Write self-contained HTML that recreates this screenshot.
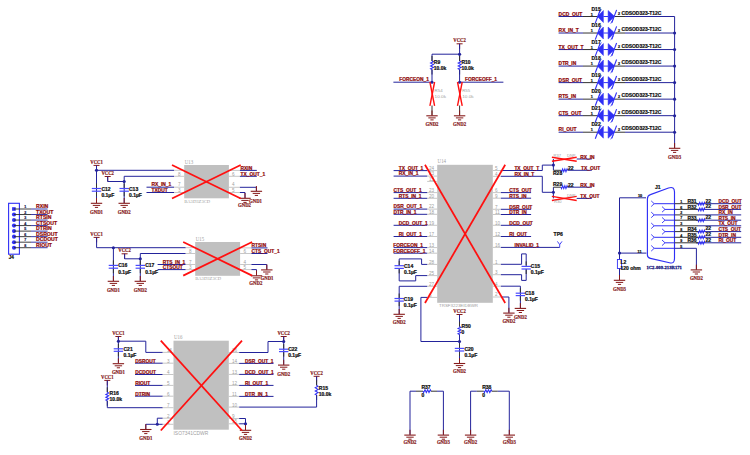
<!DOCTYPE html>
<html><head><meta charset="utf-8"><style>
html,body{margin:0;padding:0;background:#fff;}
svg{display:block;}
</style></head><body>
<svg width="750" height="455" viewBox="0 0 750 455">
<rect x="0" y="0" width="750" height="455" fill="#ffffff"/>
<rect x="8.6" y="203.3" width="10.8" height="50.9" fill="none" stroke="#2f2ff5" stroke-width="1.1"/>
<rect x="12.1" y="207.2" width="3.6" height="3.6" fill="#2f2ff5" stroke="none" stroke-width="1"/>
<line x1="14" y1="209" x2="31" y2="209" stroke="#2a2a2a" stroke-width="0.9"/>
<line x1="31" y1="209" x2="47.6" y2="209" stroke="#23239b" stroke-width="0.9"/>
<text x="24.2" y="208.3" font-size="3.6" fill="#1a1a50" font-weight="bold" font-family='"Liberation Sans", sans-serif' text-anchor="start" stroke="#1a1a50" stroke-width="0.22">1</text>
<text x="36.1" y="208" font-size="5.1" fill="#8f0a0a" font-weight="bold" font-family='"Liberation Sans", sans-serif' text-anchor="start" stroke="#8f0a0a" stroke-width="0.22">RXIN</text>
<circle cx="14" cy="214.53" r="2.05" fill="#2f2ff5"/>
<line x1="14" y1="214.53" x2="31" y2="214.53" stroke="#2a2a2a" stroke-width="0.9"/>
<line x1="31" y1="214.53" x2="47.6" y2="214.53" stroke="#23239b" stroke-width="0.9"/>
<text x="24.2" y="213.83" font-size="3.6" fill="#1a1a50" font-weight="bold" font-family='"Liberation Sans", sans-serif' text-anchor="start" stroke="#1a1a50" stroke-width="0.22">2</text>
<text x="36.1" y="213.53" font-size="5.1" fill="#8f0a0a" font-weight="bold" font-family='"Liberation Sans", sans-serif' text-anchor="start" stroke="#8f0a0a" stroke-width="0.22">TXOUT</text>
<circle cx="14" cy="220.06" r="2.05" fill="#2f2ff5"/>
<line x1="14" y1="220.06" x2="31" y2="220.06" stroke="#2a2a2a" stroke-width="0.9"/>
<line x1="31" y1="220.06" x2="47.6" y2="220.06" stroke="#23239b" stroke-width="0.9"/>
<text x="24.2" y="219.36" font-size="3.6" fill="#1a1a50" font-weight="bold" font-family='"Liberation Sans", sans-serif' text-anchor="start" stroke="#1a1a50" stroke-width="0.22">3</text>
<text x="36.1" y="219.06" font-size="5.1" fill="#8f0a0a" font-weight="bold" font-family='"Liberation Sans", sans-serif' text-anchor="start" stroke="#8f0a0a" stroke-width="0.22">RTSIN</text>
<circle cx="14" cy="225.59" r="2.05" fill="#2f2ff5"/>
<line x1="14" y1="225.59" x2="31" y2="225.59" stroke="#2a2a2a" stroke-width="0.9"/>
<line x1="31" y1="225.59" x2="47.6" y2="225.59" stroke="#23239b" stroke-width="0.9"/>
<text x="24.2" y="224.89" font-size="3.6" fill="#1a1a50" font-weight="bold" font-family='"Liberation Sans", sans-serif' text-anchor="start" stroke="#1a1a50" stroke-width="0.22">4</text>
<text x="36.1" y="224.59" font-size="5.1" fill="#8f0a0a" font-weight="bold" font-family='"Liberation Sans", sans-serif' text-anchor="start" stroke="#8f0a0a" stroke-width="0.22">CTSOUT</text>
<circle cx="14" cy="231.12" r="2.05" fill="#2f2ff5"/>
<line x1="14" y1="231.12" x2="31" y2="231.12" stroke="#2a2a2a" stroke-width="0.9"/>
<line x1="31" y1="231.12" x2="47.6" y2="231.12" stroke="#23239b" stroke-width="0.9"/>
<text x="24.2" y="230.42" font-size="3.6" fill="#1a1a50" font-weight="bold" font-family='"Liberation Sans", sans-serif' text-anchor="start" stroke="#1a1a50" stroke-width="0.22">5</text>
<text x="36.1" y="230.12" font-size="5.1" fill="#8f0a0a" font-weight="bold" font-family='"Liberation Sans", sans-serif' text-anchor="start" stroke="#8f0a0a" stroke-width="0.22">DTRIN</text>
<circle cx="14" cy="236.65" r="2.05" fill="#2f2ff5"/>
<line x1="14" y1="236.65" x2="31" y2="236.65" stroke="#2a2a2a" stroke-width="0.9"/>
<line x1="31" y1="236.65" x2="47.6" y2="236.65" stroke="#23239b" stroke-width="0.9"/>
<text x="24.2" y="235.95" font-size="3.6" fill="#1a1a50" font-weight="bold" font-family='"Liberation Sans", sans-serif' text-anchor="start" stroke="#1a1a50" stroke-width="0.22">6</text>
<text x="36.1" y="235.65" font-size="5.1" fill="#8f0a0a" font-weight="bold" font-family='"Liberation Sans", sans-serif' text-anchor="start" stroke="#8f0a0a" stroke-width="0.22">DSROUT</text>
<circle cx="14" cy="242.18" r="2.05" fill="#2f2ff5"/>
<line x1="14" y1="242.18" x2="31" y2="242.18" stroke="#2a2a2a" stroke-width="0.9"/>
<line x1="31" y1="242.18" x2="47.6" y2="242.18" stroke="#23239b" stroke-width="0.9"/>
<text x="24.2" y="241.48" font-size="3.6" fill="#1a1a50" font-weight="bold" font-family='"Liberation Sans", sans-serif' text-anchor="start" stroke="#1a1a50" stroke-width="0.22">7</text>
<text x="36.1" y="241.18" font-size="5.1" fill="#8f0a0a" font-weight="bold" font-family='"Liberation Sans", sans-serif' text-anchor="start" stroke="#8f0a0a" stroke-width="0.22">DCDOUT</text>
<circle cx="14" cy="247.71" r="2.05" fill="#2f2ff5"/>
<line x1="14" y1="247.71" x2="31" y2="247.71" stroke="#2a2a2a" stroke-width="0.9"/>
<line x1="31" y1="247.71" x2="47.6" y2="247.71" stroke="#23239b" stroke-width="0.9"/>
<text x="24.2" y="247.01" font-size="3.6" fill="#1a1a50" font-weight="bold" font-family='"Liberation Sans", sans-serif' text-anchor="start" stroke="#1a1a50" stroke-width="0.22">8</text>
<text x="36.1" y="246.71" font-size="5.1" fill="#8f0a0a" font-weight="bold" font-family='"Liberation Sans", sans-serif' text-anchor="start" stroke="#8f0a0a" stroke-width="0.22">RIOUT</text>
<text x="8.8" y="258.6" font-size="4.6" fill="#111111" font-weight="bold" font-family='"Liberation Sans", sans-serif' text-anchor="start" stroke="#111111" stroke-width="0.22">J4</text>
<text x="96.5" y="163.8" font-size="5.4" fill="#861a1a" font-weight="bold" font-family='"Liberation Serif", serif' text-anchor="middle" textLength="12.5" lengthAdjust="spacingAndGlyphs" stroke="#861a1a" stroke-width="0.2">VCC1</text>
<line x1="93.5" y1="165.4" x2="99.5" y2="165.4" stroke="#861a1a" stroke-width="1"/>
<line x1="96.5" y1="165.4" x2="96.5" y2="170.4" stroke="#861a1a" stroke-width="1"/>
<line x1="96.5" y1="165.4" x2="96.5" y2="203" stroke="#23239b" stroke-width="1"/>
<circle cx="96.5" cy="170.3" r="1.55" fill="#23239b"/>
<line x1="96.5" y1="170.3" x2="174" y2="170.3" stroke="#23239b" stroke-width="1"/>
<line x1="96.5" y1="183.5" x2="96.5" y2="188.5" stroke="#333333" stroke-width="1"/>
<line x1="96.5" y1="191.2" x2="96.5" y2="196.2" stroke="#333333" stroke-width="1"/>
<line x1="91.8" y1="188.5" x2="101.2" y2="188.5" stroke="#4a4aff" stroke-width="1.2"/>
<line x1="91.8" y1="191.2" x2="101.2" y2="191.2" stroke="#4a4aff" stroke-width="1.2"/>
<line x1="96.5" y1="198" x2="96.5" y2="203" stroke="#861a1a" stroke-width="1"/>
<line x1="90.8" y1="203.3" x2="102.2" y2="203.3" stroke="#861a1a" stroke-width="1.1"/>
<line x1="92.8" y1="205.4" x2="100.2" y2="205.4" stroke="#861a1a" stroke-width="1"/>
<line x1="94.9" y1="207.4" x2="98.1" y2="207.4" stroke="#861a1a" stroke-width="1"/>
<text x="96.5" y="214.3" font-size="5.4" fill="#861a1a" font-weight="bold" font-family='"Liberation Serif", serif' text-anchor="middle" textLength="13" lengthAdjust="spacingAndGlyphs" stroke="#861a1a" stroke-width="0.2">GND1</text>
<text x="101.4" y="190.6" font-size="5" fill="#111111" font-weight="bold" font-family='"Liberation Sans", sans-serif' text-anchor="start" stroke="#111111" stroke-width="0.22">C12</text>
<text x="101.4" y="196.8" font-size="5" fill="#111111" font-weight="bold" font-family='"Liberation Sans", sans-serif' text-anchor="start" stroke="#111111" stroke-width="0.22">0.1µF</text>
<text x="107.7" y="174.9" font-size="5.4" fill="#861a1a" font-weight="bold" font-family='"Liberation Serif", serif' text-anchor="middle" textLength="12.5" lengthAdjust="spacingAndGlyphs" stroke="#861a1a" stroke-width="0.2">VCC2</text>
<line x1="104.7" y1="176.5" x2="110.7" y2="176.5" stroke="#861a1a" stroke-width="1"/>
<line x1="107.7" y1="176.5" x2="107.7" y2="181.5" stroke="#861a1a" stroke-width="1"/>
<polyline points="107.7,176.5 107.7,181.5 124.2,181.5" stroke="#23239b" stroke-width="1" fill="none"/>
<circle cx="124.2" cy="181.5" r="1.55" fill="#23239b"/>
<line x1="124.2" y1="176.3" x2="124.2" y2="203" stroke="#23239b" stroke-width="1"/>
<line x1="124.2" y1="176.3" x2="174" y2="176.3" stroke="#23239b" stroke-width="1"/>
<line x1="124.2" y1="183.5" x2="124.2" y2="188.5" stroke="#333333" stroke-width="1"/>
<line x1="124.2" y1="191.2" x2="124.2" y2="196.2" stroke="#333333" stroke-width="1"/>
<line x1="119.5" y1="188.5" x2="128.9" y2="188.5" stroke="#4a4aff" stroke-width="1.2"/>
<line x1="119.5" y1="191.2" x2="128.9" y2="191.2" stroke="#4a4aff" stroke-width="1.2"/>
<line x1="124.2" y1="198" x2="124.2" y2="203" stroke="#861a1a" stroke-width="1"/>
<line x1="118.5" y1="203.3" x2="129.9" y2="203.3" stroke="#861a1a" stroke-width="1.1"/>
<line x1="120.5" y1="205.4" x2="127.9" y2="205.4" stroke="#861a1a" stroke-width="1"/>
<line x1="122.6" y1="207.4" x2="125.8" y2="207.4" stroke="#861a1a" stroke-width="1"/>
<text x="124.2" y="214.3" font-size="5.4" fill="#861a1a" font-weight="bold" font-family='"Liberation Serif", serif' text-anchor="middle" textLength="13" lengthAdjust="spacingAndGlyphs" stroke="#861a1a" stroke-width="0.2">GND2</text>
<text x="129" y="190.6" font-size="5" fill="#111111" font-weight="bold" font-family='"Liberation Sans", sans-serif' text-anchor="start" stroke="#111111" stroke-width="0.22">C13</text>
<text x="129" y="196.8" font-size="5" fill="#111111" font-weight="bold" font-family='"Liberation Sans", sans-serif' text-anchor="start" stroke="#111111" stroke-width="0.22">0.1µF</text>
<line x1="146.5" y1="187.2" x2="174" y2="187.2" stroke="#23239b" stroke-width="1"/>
<line x1="146.5" y1="192.5" x2="174" y2="192.5" stroke="#23239b" stroke-width="1"/>
<text x="151.5" y="186.4" font-size="4.85" fill="#8f0a0a" font-weight="bold" font-family='"Liberation Sans", sans-serif' text-anchor="start" stroke="#8f0a0a" stroke-width="0.22">RX_IN_1</text>
<text x="151.5" y="191.8" font-size="4.85" fill="#8f0a0a" font-weight="bold" font-family='"Liberation Sans", sans-serif' text-anchor="start" stroke="#8f0a0a" stroke-width="0.22">TXDUT</text>
<line x1="174" y1="170.3" x2="184.2" y2="170.3" stroke="#b9b9b9" stroke-width="0.8"/>
<line x1="174" y1="176.3" x2="184.2" y2="176.3" stroke="#b9b9b9" stroke-width="0.8"/>
<line x1="174" y1="187.2" x2="184.2" y2="187.2" stroke="#b9b9b9" stroke-width="0.8"/>
<line x1="174" y1="192.5" x2="184.2" y2="192.5" stroke="#b9b9b9" stroke-width="0.8"/>
<line x1="228.9" y1="170.4" x2="239.9" y2="170.4" stroke="#b9b9b9" stroke-width="0.8"/>
<line x1="228.9" y1="176.3" x2="239.9" y2="176.3" stroke="#b9b9b9" stroke-width="0.8"/>
<line x1="228.9" y1="187.3" x2="239.9" y2="187.3" stroke="#b9b9b9" stroke-width="0.8"/>
<line x1="228.9" y1="192.5" x2="239.9" y2="192.5" stroke="#b9b9b9" stroke-width="0.8"/>
<rect x="184.2" y="165" width="44.7" height="33.3" fill="#c0c0c0" stroke="none" stroke-width="1"/>
<text x="184.7" y="163.6" font-size="5.3" fill="#a0a0a0" font-weight="normal" font-family='"Liberation Serif", serif' text-anchor="start" textLength="8.5" lengthAdjust="spacingAndGlyphs">U13</text>
<text x="184.2" y="202.9" font-size="4.8" fill="#a0a0a0" font-weight="normal" font-family='"Liberation Serif", serif' text-anchor="start" textLength="26" lengthAdjust="spacingAndGlyphs">BA3D3Z3CD</text>
<text x="178" y="175.7" font-size="4.6" fill="#a0a0a0" font-weight="normal" font-family='"Liberation Sans", sans-serif' text-anchor="start">8</text>
<text x="178" y="186" font-size="4.6" fill="#a0a0a0" font-weight="normal" font-family='"Liberation Sans", sans-serif' text-anchor="start">7</text>
<text x="178" y="191.7" font-size="4.6" fill="#a0a0a0" font-weight="normal" font-family='"Liberation Sans", sans-serif' text-anchor="start">3</text>
<text x="232" y="175.7" font-size="4.6" fill="#a0a0a0" font-weight="normal" font-family='"Liberation Sans", sans-serif' text-anchor="start">6</text>
<text x="232" y="186.4" font-size="4.6" fill="#a0a0a0" font-weight="normal" font-family='"Liberation Sans", sans-serif' text-anchor="start">4</text>
<text x="232" y="191.8" font-size="4.6" fill="#a0a0a0" font-weight="normal" font-family='"Liberation Sans", sans-serif' text-anchor="start">5</text>
<line x1="239.9" y1="170.4" x2="256.8" y2="170.4" stroke="#23239b" stroke-width="1"/>
<line x1="239.9" y1="176.3" x2="256.8" y2="176.3" stroke="#23239b" stroke-width="1"/>
<text x="240.6" y="169.7" font-size="4.85" fill="#8f0a0a" font-weight="bold" font-family='"Liberation Sans", sans-serif' text-anchor="start" stroke="#8f0a0a" stroke-width="0.22">RXIN</text>
<text x="240.6" y="175.6" font-size="4.85" fill="#8f0a0a" font-weight="bold" font-family='"Liberation Sans", sans-serif' text-anchor="start" stroke="#8f0a0a" stroke-width="0.22">TX_OUT_1</text>
<polyline points="239.9,187.3 256.4,187.3 256.4,191" stroke="#23239b" stroke-width="1" fill="none"/>
<line x1="256.4" y1="186" x2="256.4" y2="191" stroke="#861a1a" stroke-width="1"/>
<line x1="250.7" y1="191.3" x2="262.1" y2="191.3" stroke="#861a1a" stroke-width="1.1"/>
<line x1="252.7" y1="193.4" x2="260.1" y2="193.4" stroke="#861a1a" stroke-width="1"/>
<line x1="254.8" y1="195.4" x2="258" y2="195.4" stroke="#861a1a" stroke-width="1"/>
<text x="255.5" y="203" font-size="5.4" fill="#861a1a" font-weight="bold" font-family='"Liberation Serif", serif' text-anchor="middle" textLength="13" lengthAdjust="spacingAndGlyphs" stroke="#861a1a" stroke-width="0.2">GND1</text>
<polyline points="239.9,192.5 245,192.5 245,198" stroke="#23239b" stroke-width="1" fill="none"/>
<line x1="245" y1="193" x2="245" y2="198" stroke="#861a1a" stroke-width="1"/>
<line x1="239.3" y1="198.3" x2="250.7" y2="198.3" stroke="#861a1a" stroke-width="1.1"/>
<line x1="241.3" y1="200.4" x2="248.7" y2="200.4" stroke="#861a1a" stroke-width="1"/>
<line x1="243.4" y1="202.4" x2="246.6" y2="202.4" stroke="#861a1a" stroke-width="1"/>
<text x="244.5" y="207.3" font-size="5.4" fill="#861a1a" font-weight="bold" font-family='"Liberation Serif", serif' text-anchor="middle" textLength="13" lengthAdjust="spacingAndGlyphs" stroke="#861a1a" stroke-width="0.2">GND2</text>
<line x1="172" y1="165" x2="240.7" y2="198.5" stroke="#ff1010" stroke-width="1.75"/>
<line x1="172" y1="198.5" x2="240.7" y2="165" stroke="#ff1010" stroke-width="1.75"/>
<text x="96.6" y="235.8" font-size="5.4" fill="#861a1a" font-weight="bold" font-family='"Liberation Serif", serif' text-anchor="middle" textLength="12.5" lengthAdjust="spacingAndGlyphs" stroke="#861a1a" stroke-width="0.2">VCC1</text>
<line x1="93.6" y1="237.4" x2="99.6" y2="237.4" stroke="#861a1a" stroke-width="1"/>
<line x1="96.6" y1="237.4" x2="96.6" y2="242.4" stroke="#861a1a" stroke-width="1"/>
<polyline points="96.6,237.4 96.6,247.7 185.7,247.7" stroke="#23239b" stroke-width="1" fill="none"/>
<circle cx="113.4" cy="247.7" r="1.55" fill="#23239b"/>
<line x1="113.4" y1="247.7" x2="113.4" y2="281" stroke="#23239b" stroke-width="1"/>
<line x1="113.4" y1="260.4" x2="113.4" y2="265.4" stroke="#333333" stroke-width="1"/>
<line x1="113.4" y1="268.2" x2="113.4" y2="273.2" stroke="#333333" stroke-width="1"/>
<line x1="108.7" y1="265.4" x2="118.1" y2="265.4" stroke="#4a4aff" stroke-width="1.2"/>
<line x1="108.7" y1="268.2" x2="118.1" y2="268.2" stroke="#4a4aff" stroke-width="1.2"/>
<line x1="113.4" y1="276" x2="113.4" y2="281" stroke="#861a1a" stroke-width="1"/>
<line x1="107.7" y1="281.3" x2="119.1" y2="281.3" stroke="#861a1a" stroke-width="1.1"/>
<line x1="109.7" y1="283.4" x2="117.1" y2="283.4" stroke="#861a1a" stroke-width="1"/>
<line x1="111.8" y1="285.4" x2="115" y2="285.4" stroke="#861a1a" stroke-width="1"/>
<text x="113.4" y="292.3" font-size="5.4" fill="#861a1a" font-weight="bold" font-family='"Liberation Serif", serif' text-anchor="middle" textLength="13" lengthAdjust="spacingAndGlyphs" stroke="#861a1a" stroke-width="0.2">GND1</text>
<text x="118.2" y="267.3" font-size="5" fill="#111111" font-weight="bold" font-family='"Liberation Sans", sans-serif' text-anchor="start" stroke="#111111" stroke-width="0.22">C16</text>
<text x="118.2" y="273.5" font-size="5" fill="#111111" font-weight="bold" font-family='"Liberation Sans", sans-serif' text-anchor="start" stroke="#111111" stroke-width="0.22">0.1µF</text>
<text x="124.6" y="252.2" font-size="5.4" fill="#861a1a" font-weight="bold" font-family='"Liberation Serif", serif' text-anchor="middle" textLength="12.5" lengthAdjust="spacingAndGlyphs" stroke="#861a1a" stroke-width="0.2">VCC2</text>
<line x1="121.6" y1="253.8" x2="127.6" y2="253.8" stroke="#861a1a" stroke-width="1"/>
<line x1="124.6" y1="253.8" x2="124.6" y2="258.8" stroke="#861a1a" stroke-width="1"/>
<polyline points="124.6,253.8 124.6,258.8 140.3,258.8" stroke="#23239b" stroke-width="1" fill="none"/>
<circle cx="140.3" cy="258.8" r="1.55" fill="#23239b"/>
<line x1="140.3" y1="253.5" x2="140.3" y2="281" stroke="#23239b" stroke-width="1"/>
<line x1="140.3" y1="253.5" x2="185.7" y2="253.5" stroke="#23239b" stroke-width="1"/>
<line x1="140.3" y1="260.4" x2="140.3" y2="265.4" stroke="#333333" stroke-width="1"/>
<line x1="140.3" y1="268.2" x2="140.3" y2="273.2" stroke="#333333" stroke-width="1"/>
<line x1="135.6" y1="265.4" x2="145" y2="265.4" stroke="#4a4aff" stroke-width="1.2"/>
<line x1="135.6" y1="268.2" x2="145" y2="268.2" stroke="#4a4aff" stroke-width="1.2"/>
<line x1="140.3" y1="276" x2="140.3" y2="281" stroke="#861a1a" stroke-width="1"/>
<line x1="134.6" y1="281.3" x2="146" y2="281.3" stroke="#861a1a" stroke-width="1.1"/>
<line x1="136.6" y1="283.4" x2="144" y2="283.4" stroke="#861a1a" stroke-width="1"/>
<line x1="138.7" y1="285.4" x2="141.9" y2="285.4" stroke="#861a1a" stroke-width="1"/>
<text x="140.3" y="292.3" font-size="5.4" fill="#861a1a" font-weight="bold" font-family='"Liberation Serif", serif' text-anchor="middle" textLength="13" lengthAdjust="spacingAndGlyphs" stroke="#861a1a" stroke-width="0.2">GND2</text>
<text x="145.2" y="267.3" font-size="5" fill="#111111" font-weight="bold" font-family='"Liberation Sans", sans-serif' text-anchor="start" stroke="#111111" stroke-width="0.22">C17</text>
<text x="145.2" y="273.5" font-size="5" fill="#111111" font-weight="bold" font-family='"Liberation Sans", sans-serif' text-anchor="start" stroke="#111111" stroke-width="0.22">0.1µF</text>
<line x1="157.6" y1="264.5" x2="185.7" y2="264.5" stroke="#23239b" stroke-width="1"/>
<line x1="157.6" y1="269.6" x2="185.7" y2="269.6" stroke="#23239b" stroke-width="1"/>
<text x="162.7" y="263.8" font-size="4.85" fill="#8f0a0a" font-weight="bold" font-family='"Liberation Sans", sans-serif' text-anchor="start" stroke="#8f0a0a" stroke-width="0.22">RTS_IN_1</text>
<text x="162.7" y="268.9" font-size="4.85" fill="#8f0a0a" font-weight="bold" font-family='"Liberation Sans", sans-serif' text-anchor="start" stroke="#8f0a0a" stroke-width="0.22">CTSOUT</text>
<line x1="185.7" y1="247.7" x2="195.2" y2="247.7" stroke="#b9b9b9" stroke-width="0.8"/>
<line x1="185.7" y1="253.5" x2="195.2" y2="253.5" stroke="#b9b9b9" stroke-width="0.8"/>
<line x1="185.7" y1="264.5" x2="195.2" y2="264.5" stroke="#b9b9b9" stroke-width="0.8"/>
<line x1="185.7" y1="269.6" x2="195.2" y2="269.6" stroke="#b9b9b9" stroke-width="0.8"/>
<line x1="240.1" y1="247.9" x2="251.4" y2="247.9" stroke="#b9b9b9" stroke-width="0.8"/>
<line x1="240.1" y1="253.5" x2="251.4" y2="253.5" stroke="#b9b9b9" stroke-width="0.8"/>
<line x1="240.1" y1="264.5" x2="251.4" y2="264.5" stroke="#b9b9b9" stroke-width="0.8"/>
<line x1="240.1" y1="269.6" x2="251.4" y2="269.6" stroke="#b9b9b9" stroke-width="0.8"/>
<rect x="195.2" y="242" width="44.9" height="33.8" fill="#c0c0c0" stroke="none" stroke-width="1"/>
<text x="195.7" y="240.6" font-size="5.3" fill="#a0a0a0" font-weight="normal" font-family='"Liberation Serif", serif' text-anchor="start" textLength="8.5" lengthAdjust="spacingAndGlyphs">U15</text>
<text x="195.2" y="280.4" font-size="4.8" fill="#a0a0a0" font-weight="normal" font-family='"Liberation Serif", serif' text-anchor="start" textLength="26" lengthAdjust="spacingAndGlyphs">BA3D3Z3CD</text>
<text x="189" y="252.9" font-size="4.6" fill="#a0a0a0" font-weight="normal" font-family='"Liberation Sans", sans-serif' text-anchor="start">8</text>
<text x="189" y="263.9" font-size="4.6" fill="#a0a0a0" font-weight="normal" font-family='"Liberation Sans", sans-serif' text-anchor="start">7</text>
<text x="189" y="269" font-size="4.6" fill="#a0a0a0" font-weight="normal" font-family='"Liberation Sans", sans-serif' text-anchor="start">3</text>
<text x="243.5" y="252.9" font-size="4.6" fill="#a0a0a0" font-weight="normal" font-family='"Liberation Sans", sans-serif' text-anchor="start">6</text>
<text x="243.5" y="263.9" font-size="4.6" fill="#a0a0a0" font-weight="normal" font-family='"Liberation Sans", sans-serif' text-anchor="start">4</text>
<text x="243.5" y="269" font-size="4.6" fill="#a0a0a0" font-weight="normal" font-family='"Liberation Sans", sans-serif' text-anchor="start">5</text>
<line x1="251.4" y1="247.9" x2="267.5" y2="247.9" stroke="#23239b" stroke-width="1"/>
<line x1="251.4" y1="253.5" x2="267.5" y2="253.5" stroke="#23239b" stroke-width="1"/>
<text x="251.6" y="247.2" font-size="4.85" fill="#8f0a0a" font-weight="bold" font-family='"Liberation Sans", sans-serif' text-anchor="start" stroke="#8f0a0a" stroke-width="0.22">RTSIN</text>
<text x="251.6" y="252.8" font-size="4.85" fill="#8f0a0a" font-weight="bold" font-family='"Liberation Sans", sans-serif' text-anchor="start" stroke="#8f0a0a" stroke-width="0.22">CTS_OUT_1</text>
<polyline points="251.4,264.5 266.8,264.5 266.8,269.6" stroke="#23239b" stroke-width="1" fill="none"/>
<line x1="266.8" y1="264.6" x2="266.8" y2="269.6" stroke="#861a1a" stroke-width="1"/>
<line x1="261.1" y1="269.9" x2="272.5" y2="269.9" stroke="#861a1a" stroke-width="1.1"/>
<line x1="263.1" y1="272" x2="270.5" y2="272" stroke="#861a1a" stroke-width="1"/>
<line x1="265.2" y1="274" x2="268.4" y2="274" stroke="#861a1a" stroke-width="1"/>
<text x="267" y="280.4" font-size="5.4" fill="#861a1a" font-weight="bold" font-family='"Liberation Serif", serif' text-anchor="middle" textLength="13" lengthAdjust="spacingAndGlyphs" stroke="#861a1a" stroke-width="0.2">GND1</text>
<polyline points="251.4,269.6 256.5,269.6 256.5,275.5" stroke="#23239b" stroke-width="1" fill="none"/>
<line x1="256.5" y1="270.5" x2="256.5" y2="275.5" stroke="#861a1a" stroke-width="1"/>
<line x1="250.8" y1="275.8" x2="262.2" y2="275.8" stroke="#861a1a" stroke-width="1.1"/>
<line x1="252.8" y1="277.9" x2="260.2" y2="277.9" stroke="#861a1a" stroke-width="1"/>
<line x1="254.9" y1="279.9" x2="258.1" y2="279.9" stroke="#861a1a" stroke-width="1"/>
<text x="255.8" y="284.6" font-size="5.4" fill="#861a1a" font-weight="bold" font-family='"Liberation Serif", serif' text-anchor="middle" textLength="13" lengthAdjust="spacingAndGlyphs" stroke="#861a1a" stroke-width="0.2">GND2</text>
<line x1="183.2" y1="242" x2="252.1" y2="275.6" stroke="#ff1010" stroke-width="1.75"/>
<line x1="183.2" y1="275.6" x2="252.1" y2="242" stroke="#ff1010" stroke-width="1.75"/>
<text x="118.4" y="334.9" font-size="5.4" fill="#861a1a" font-weight="bold" font-family='"Liberation Serif", serif' text-anchor="middle" textLength="12.5" lengthAdjust="spacingAndGlyphs" stroke="#861a1a" stroke-width="0.2">VCC1</text>
<line x1="115.4" y1="336.5" x2="121.4" y2="336.5" stroke="#861a1a" stroke-width="1"/>
<line x1="118.4" y1="336.5" x2="118.4" y2="341.5" stroke="#861a1a" stroke-width="1"/>
<polyline points="118.4,336.5 118.4,362.7" stroke="#23239b" stroke-width="1" fill="none"/>
<circle cx="118.4" cy="341.2" r="1.55" fill="#23239b"/>
<polyline points="118.4,341.2 145.8,341.2 145.8,352.4 162.7,352.4" stroke="#23239b" stroke-width="1" fill="none"/>
<line x1="118.4" y1="343.8" x2="118.4" y2="348.8" stroke="#333333" stroke-width="1"/>
<line x1="118.4" y1="351.3" x2="118.4" y2="356.3" stroke="#333333" stroke-width="1"/>
<line x1="113.7" y1="348.8" x2="123.1" y2="348.8" stroke="#4a4aff" stroke-width="1.2"/>
<line x1="113.7" y1="351.3" x2="123.1" y2="351.3" stroke="#4a4aff" stroke-width="1.2"/>
<line x1="118.4" y1="358.4" x2="118.4" y2="363.4" stroke="#861a1a" stroke-width="1"/>
<line x1="112.7" y1="363.7" x2="124.1" y2="363.7" stroke="#861a1a" stroke-width="1.1"/>
<line x1="114.7" y1="365.8" x2="122.1" y2="365.8" stroke="#861a1a" stroke-width="1"/>
<line x1="116.8" y1="367.8" x2="120" y2="367.8" stroke="#861a1a" stroke-width="1"/>
<text x="118.4" y="373.7" font-size="5.4" fill="#861a1a" font-weight="bold" font-family='"Liberation Serif", serif' text-anchor="middle" textLength="13" lengthAdjust="spacingAndGlyphs" stroke="#861a1a" stroke-width="0.2">GND1</text>
<text x="123.5" y="350.8" font-size="5" fill="#111111" font-weight="bold" font-family='"Liberation Sans", sans-serif' text-anchor="start" stroke="#111111" stroke-width="0.22">C21</text>
<text x="123.5" y="356.8" font-size="5" fill="#111111" font-weight="bold" font-family='"Liberation Sans", sans-serif' text-anchor="start" stroke="#111111" stroke-width="0.22">0.1µF</text>
<line x1="135" y1="363.2" x2="162.7" y2="363.2" stroke="#23239b" stroke-width="1"/>
<text x="135.2" y="362.5" font-size="4.85" fill="#8f0a0a" font-weight="bold" font-family='"Liberation Sans", sans-serif' text-anchor="start" stroke="#8f0a0a" stroke-width="0.22">DSROUT</text>
<line x1="135" y1="374.5" x2="162.7" y2="374.5" stroke="#23239b" stroke-width="1"/>
<text x="135.2" y="373.8" font-size="4.85" fill="#8f0a0a" font-weight="bold" font-family='"Liberation Sans", sans-serif' text-anchor="start" stroke="#8f0a0a" stroke-width="0.22">DCDOUT</text>
<line x1="135" y1="385.4" x2="162.7" y2="385.4" stroke="#23239b" stroke-width="1"/>
<text x="135.2" y="384.7" font-size="4.85" fill="#8f0a0a" font-weight="bold" font-family='"Liberation Sans", sans-serif' text-anchor="start" stroke="#8f0a0a" stroke-width="0.22">RIOUT</text>
<line x1="135" y1="396.2" x2="162.7" y2="396.2" stroke="#23239b" stroke-width="1"/>
<text x="135.2" y="395.5" font-size="4.85" fill="#8f0a0a" font-weight="bold" font-family='"Liberation Sans", sans-serif' text-anchor="start" stroke="#8f0a0a" stroke-width="0.22">DTRIN</text>
<text x="107.3" y="378.8" font-size="5.4" fill="#861a1a" font-weight="bold" font-family='"Liberation Serif", serif' text-anchor="middle" textLength="12.5" lengthAdjust="spacingAndGlyphs" stroke="#861a1a" stroke-width="0.2">VCC1</text>
<line x1="104.3" y1="380.4" x2="110.3" y2="380.4" stroke="#861a1a" stroke-width="1"/>
<line x1="107.3" y1="380.4" x2="107.3" y2="385.4" stroke="#861a1a" stroke-width="1"/>
<polyline points="107.3,380.4 107.3,392.3" stroke="#23239b" stroke-width="1" fill="none"/>
<line x1="107.3" y1="387.3" x2="107.3" y2="392.3" stroke="#333333" stroke-width="1"/>
<line x1="107.3" y1="400.8" x2="107.3" y2="405.8" stroke="#333333" stroke-width="1"/>
<polyline points="107.3,392.3 108.7,393.01 105.9,394.43 108.7,395.84 105.9,397.26 108.7,398.68 105.9,400.09 107.3,400.8" stroke="#2f2ff5" stroke-width="1.05" fill="none"/>
<polyline points="107.3,400.8 107.3,407.7 162.7,407.7" stroke="#23239b" stroke-width="1" fill="none"/>
<text x="109.6" y="395.2" font-size="5" fill="#111111" font-weight="bold" font-family='"Liberation Sans", sans-serif' text-anchor="start" stroke="#111111" stroke-width="0.22">R16</text>
<text x="109.6" y="401.2" font-size="5" fill="#111111" font-weight="bold" font-family='"Liberation Sans", sans-serif' text-anchor="start" stroke="#111111" stroke-width="0.22">10.0k</text>
<polyline points="157.3,418.2 157.3,424.3" stroke="#23239b" stroke-width="1" fill="none"/>
<line x1="157.3" y1="418.2" x2="162.7" y2="418.2" stroke="#23239b" stroke-width="1"/>
<line x1="145.8" y1="424.3" x2="162.7" y2="424.3" stroke="#23239b" stroke-width="1"/>
<circle cx="157.3" cy="424.3" r="1.55" fill="#23239b"/>
<line x1="145.8" y1="424.3" x2="145.8" y2="429.2" stroke="#23239b" stroke-width="1"/>
<line x1="145.8" y1="424.2" x2="145.8" y2="429.2" stroke="#861a1a" stroke-width="1"/>
<line x1="140.1" y1="429.5" x2="151.5" y2="429.5" stroke="#861a1a" stroke-width="1.1"/>
<line x1="142.1" y1="431.6" x2="149.5" y2="431.6" stroke="#861a1a" stroke-width="1"/>
<line x1="144.2" y1="433.6" x2="147.4" y2="433.6" stroke="#861a1a" stroke-width="1"/>
<text x="145.8" y="439.7" font-size="5.4" fill="#861a1a" font-weight="bold" font-family='"Liberation Serif", serif' text-anchor="middle" textLength="13" lengthAdjust="spacingAndGlyphs" stroke="#861a1a" stroke-width="0.2">GND1</text>
<line x1="162.7" y1="352.4" x2="173.5" y2="352.4" stroke="#b9b9b9" stroke-width="0.8"/>
<line x1="162.7" y1="363.2" x2="173.5" y2="363.2" stroke="#b9b9b9" stroke-width="0.8"/>
<line x1="162.7" y1="374.5" x2="173.5" y2="374.5" stroke="#b9b9b9" stroke-width="0.8"/>
<line x1="162.7" y1="385.4" x2="173.5" y2="385.4" stroke="#b9b9b9" stroke-width="0.8"/>
<line x1="162.7" y1="396.2" x2="173.5" y2="396.2" stroke="#b9b9b9" stroke-width="0.8"/>
<line x1="162.7" y1="407.7" x2="173.5" y2="407.7" stroke="#b9b9b9" stroke-width="0.8"/>
<line x1="162.7" y1="418.2" x2="173.5" y2="418.2" stroke="#b9b9b9" stroke-width="0.8"/>
<line x1="162.7" y1="424.3" x2="173.5" y2="424.3" stroke="#b9b9b9" stroke-width="0.8"/>
<line x1="228.8" y1="352.5" x2="239.2" y2="352.5" stroke="#b9b9b9" stroke-width="0.8"/>
<line x1="228.8" y1="363.4" x2="239.2" y2="363.4" stroke="#b9b9b9" stroke-width="0.8"/>
<line x1="228.8" y1="374.4" x2="239.2" y2="374.4" stroke="#b9b9b9" stroke-width="0.8"/>
<line x1="228.8" y1="385.4" x2="239.2" y2="385.4" stroke="#b9b9b9" stroke-width="0.8"/>
<line x1="228.8" y1="396.4" x2="239.2" y2="396.4" stroke="#b9b9b9" stroke-width="0.8"/>
<line x1="228.8" y1="407.1" x2="239.2" y2="407.1" stroke="#b9b9b9" stroke-width="0.8"/>
<line x1="228.8" y1="418.5" x2="239.2" y2="418.5" stroke="#b9b9b9" stroke-width="0.8"/>
<line x1="228.8" y1="423.8" x2="239.2" y2="423.8" stroke="#b9b9b9" stroke-width="0.8"/>
<rect x="173.5" y="340.7" width="55.3" height="89" fill="#c0c0c0" stroke="none" stroke-width="1"/>
<text x="174" y="339.2" font-size="5.3" fill="#a0a0a0" font-weight="normal" font-family='"Liberation Serif", serif' text-anchor="start" textLength="8.5" lengthAdjust="spacingAndGlyphs">U16</text>
<text x="173.5" y="434.9" font-size="4.8" fill="#a0a0a0" font-weight="normal" font-family='"Liberation Sans", sans-serif' text-anchor="start" textLength="34.7" lengthAdjust="spacingAndGlyphs">ISO7341CDWR</text>
<text x="167" y="351.8" font-size="4.6" fill="#a0a0a0" font-weight="normal" font-family='"Liberation Sans", sans-serif' text-anchor="start">16</text>
<text x="167" y="362.6" font-size="4.6" fill="#a0a0a0" font-weight="normal" font-family='"Liberation Sans", sans-serif' text-anchor="start">3</text>
<text x="167" y="373.9" font-size="4.6" fill="#a0a0a0" font-weight="normal" font-family='"Liberation Sans", sans-serif' text-anchor="start">4</text>
<text x="167" y="384.8" font-size="4.6" fill="#a0a0a0" font-weight="normal" font-family='"Liberation Sans", sans-serif' text-anchor="start">5</text>
<text x="167" y="395.6" font-size="4.6" fill="#a0a0a0" font-weight="normal" font-family='"Liberation Sans", sans-serif' text-anchor="start">6</text>
<text x="167" y="407.1" font-size="4.6" fill="#a0a0a0" font-weight="normal" font-family='"Liberation Sans", sans-serif' text-anchor="start">7</text>
<text x="167" y="417.6" font-size="4.6" fill="#a0a0a0" font-weight="normal" font-family='"Liberation Sans", sans-serif' text-anchor="start">2</text>
<text x="167" y="423.7" font-size="4.6" fill="#a0a0a0" font-weight="normal" font-family='"Liberation Sans", sans-serif' text-anchor="start">1</text>
<text x="232" y="351.9" font-size="4.6" fill="#a0a0a0" font-weight="normal" font-family='"Liberation Sans", sans-serif' text-anchor="start">16</text>
<text x="232" y="362.8" font-size="4.6" fill="#a0a0a0" font-weight="normal" font-family='"Liberation Sans", sans-serif' text-anchor="start">14</text>
<text x="232" y="373.8" font-size="4.6" fill="#a0a0a0" font-weight="normal" font-family='"Liberation Sans", sans-serif' text-anchor="start">13</text>
<text x="232" y="384.8" font-size="4.6" fill="#a0a0a0" font-weight="normal" font-family='"Liberation Sans", sans-serif' text-anchor="start">12</text>
<text x="232" y="395.8" font-size="4.6" fill="#a0a0a0" font-weight="normal" font-family='"Liberation Sans", sans-serif' text-anchor="start">11</text>
<text x="232" y="406.5" font-size="4.6" fill="#a0a0a0" font-weight="normal" font-family='"Liberation Sans", sans-serif' text-anchor="start">10</text>
<text x="232" y="417.9" font-size="4.6" fill="#a0a0a0" font-weight="normal" font-family='"Liberation Sans", sans-serif' text-anchor="start">9</text>
<text x="232" y="423.2" font-size="4.6" fill="#a0a0a0" font-weight="normal" font-family='"Liberation Sans", sans-serif' text-anchor="start">15</text>
<text x="283.7" y="334.9" font-size="5.4" fill="#861a1a" font-weight="bold" font-family='"Liberation Serif", serif' text-anchor="middle" textLength="12.5" lengthAdjust="spacingAndGlyphs" stroke="#861a1a" stroke-width="0.2">VCC2</text>
<line x1="280.7" y1="336.5" x2="286.7" y2="336.5" stroke="#861a1a" stroke-width="1"/>
<line x1="283.7" y1="336.5" x2="283.7" y2="341.5" stroke="#861a1a" stroke-width="1"/>
<line x1="283.7" y1="336.5" x2="283.7" y2="364.8" stroke="#23239b" stroke-width="1"/>
<circle cx="283.7" cy="341.5" r="1.55" fill="#23239b"/>
<polyline points="239.2,352.5 268,352.5 268,341.5 283.7,341.5" stroke="#23239b" stroke-width="1" fill="none"/>
<line x1="283.7" y1="344.2" x2="283.7" y2="349.2" stroke="#333333" stroke-width="1"/>
<line x1="283.7" y1="351.6" x2="283.7" y2="356.6" stroke="#333333" stroke-width="1"/>
<line x1="279" y1="349.2" x2="288.4" y2="349.2" stroke="#4a4aff" stroke-width="1.2"/>
<line x1="279" y1="351.6" x2="288.4" y2="351.6" stroke="#4a4aff" stroke-width="1.2"/>
<line x1="283.7" y1="359.8" x2="283.7" y2="364.8" stroke="#861a1a" stroke-width="1"/>
<line x1="278" y1="365.1" x2="289.4" y2="365.1" stroke="#861a1a" stroke-width="1.1"/>
<line x1="280" y1="367.2" x2="287.4" y2="367.2" stroke="#861a1a" stroke-width="1"/>
<line x1="282.1" y1="369.2" x2="285.3" y2="369.2" stroke="#861a1a" stroke-width="1"/>
<text x="283.7" y="376.1" font-size="5.4" fill="#861a1a" font-weight="bold" font-family='"Liberation Serif", serif' text-anchor="middle" textLength="13" lengthAdjust="spacingAndGlyphs" stroke="#861a1a" stroke-width="0.2">GND2</text>
<text x="288.2" y="350.9" font-size="5" fill="#111111" font-weight="bold" font-family='"Liberation Sans", sans-serif' text-anchor="start" stroke="#111111" stroke-width="0.22">C22</text>
<text x="288.2" y="356.9" font-size="5" fill="#111111" font-weight="bold" font-family='"Liberation Sans", sans-serif' text-anchor="start" stroke="#111111" stroke-width="0.22">0.1µF</text>
<line x1="239.2" y1="363.4" x2="273.5" y2="363.4" stroke="#23239b" stroke-width="1"/>
<text x="245" y="362.7" font-size="4.85" fill="#8f0a0a" font-weight="bold" font-family='"Liberation Sans", sans-serif' text-anchor="start" stroke="#8f0a0a" stroke-width="0.22">DSR_OUT_1</text>
<line x1="239.2" y1="374.4" x2="273.5" y2="374.4" stroke="#23239b" stroke-width="1"/>
<text x="245" y="373.7" font-size="4.85" fill="#8f0a0a" font-weight="bold" font-family='"Liberation Sans", sans-serif' text-anchor="start" stroke="#8f0a0a" stroke-width="0.22">DCD_OUT_1</text>
<line x1="239.2" y1="385.4" x2="273.5" y2="385.4" stroke="#23239b" stroke-width="1"/>
<text x="245" y="384.7" font-size="4.85" fill="#8f0a0a" font-weight="bold" font-family='"Liberation Sans", sans-serif' text-anchor="start" stroke="#8f0a0a" stroke-width="0.22">RI_OUT_1</text>
<line x1="239.2" y1="396.4" x2="273.5" y2="396.4" stroke="#23239b" stroke-width="1"/>
<text x="245" y="395.7" font-size="4.85" fill="#8f0a0a" font-weight="bold" font-family='"Liberation Sans", sans-serif' text-anchor="start" stroke="#8f0a0a" stroke-width="0.22">DTR_IN_1</text>
<text x="316.6" y="374.7" font-size="5.4" fill="#861a1a" font-weight="bold" font-family='"Liberation Serif", serif' text-anchor="middle" textLength="12.5" lengthAdjust="spacingAndGlyphs" stroke="#861a1a" stroke-width="0.2">VCC2</text>
<line x1="313.6" y1="376.3" x2="319.6" y2="376.3" stroke="#861a1a" stroke-width="1"/>
<line x1="316.6" y1="376.3" x2="316.6" y2="381.3" stroke="#861a1a" stroke-width="1"/>
<line x1="316.6" y1="376.3" x2="316.6" y2="385.4" stroke="#23239b" stroke-width="1"/>
<line x1="316.6" y1="380.4" x2="316.6" y2="385.4" stroke="#333333" stroke-width="1"/>
<line x1="316.6" y1="395" x2="316.6" y2="400" stroke="#333333" stroke-width="1"/>
<polyline points="316.6,385.4 318,386.2 315.2,387.8 318,389.4 315.2,391 318,392.6 315.2,394.2 316.6,395" stroke="#2f2ff5" stroke-width="1.05" fill="none"/>
<polyline points="316.6,395 316.6,407.1 239.2,407.1" stroke="#23239b" stroke-width="1" fill="none"/>
<text x="318.8" y="389.8" font-size="5" fill="#111111" font-weight="bold" font-family='"Liberation Sans", sans-serif' text-anchor="start" stroke="#111111" stroke-width="0.22">R15</text>
<text x="318.8" y="395.8" font-size="5" fill="#111111" font-weight="bold" font-family='"Liberation Sans", sans-serif' text-anchor="start" stroke="#111111" stroke-width="0.22">10.0k</text>
<polyline points="239.2,418.5 245.5,418.5 245.5,430" stroke="#23239b" stroke-width="1" fill="none"/>
<line x1="239.2" y1="423.8" x2="245.5" y2="423.8" stroke="#23239b" stroke-width="1"/>
<circle cx="245.5" cy="423.8" r="1.55" fill="#23239b"/>
<line x1="245.5" y1="425" x2="245.5" y2="430" stroke="#861a1a" stroke-width="1"/>
<line x1="239.8" y1="430.3" x2="251.2" y2="430.3" stroke="#861a1a" stroke-width="1.1"/>
<line x1="241.8" y1="432.4" x2="249.2" y2="432.4" stroke="#861a1a" stroke-width="1"/>
<line x1="243.9" y1="434.4" x2="247.1" y2="434.4" stroke="#861a1a" stroke-width="1"/>
<text x="245.5" y="440" font-size="5.4" fill="#861a1a" font-weight="bold" font-family='"Liberation Serif", serif' text-anchor="middle" textLength="13" lengthAdjust="spacingAndGlyphs" stroke="#861a1a" stroke-width="0.2">GND2</text>
<line x1="160.8" y1="340.6" x2="242" y2="430.5" stroke="#ff1010" stroke-width="1.75"/>
<line x1="160.8" y1="430.5" x2="242" y2="340.6" stroke="#ff1010" stroke-width="1.75"/>
<text x="459.6" y="42.2" font-size="5.4" fill="#861a1a" font-weight="bold" font-family='"Liberation Serif", serif' text-anchor="middle" textLength="12.5" lengthAdjust="spacingAndGlyphs" stroke="#861a1a" stroke-width="0.2">VCC2</text>
<line x1="456.6" y1="43.8" x2="462.6" y2="43.8" stroke="#861a1a" stroke-width="1"/>
<line x1="459.6" y1="43.8" x2="459.6" y2="48.8" stroke="#861a1a" stroke-width="1"/>
<line x1="459.6" y1="43.8" x2="459.6" y2="61" stroke="#23239b" stroke-width="1"/>
<circle cx="459.6" cy="54.2" r="1.55" fill="#23239b"/>
<polyline points="459.6,54.2 432,54.2 432,61" stroke="#23239b" stroke-width="1" fill="none"/>
<line x1="432" y1="56" x2="432" y2="61" stroke="#333333" stroke-width="1"/>
<line x1="432" y1="69.5" x2="432" y2="74.5" stroke="#333333" stroke-width="1"/>
<polyline points="432,61 433.4,61.71 430.6,63.12 433.4,64.54 430.6,65.96 433.4,67.38 430.6,68.79 432,69.5" stroke="#2f2ff5" stroke-width="1.05" fill="none"/>
<line x1="459.6" y1="56" x2="459.6" y2="61" stroke="#333333" stroke-width="1"/>
<line x1="459.6" y1="69.5" x2="459.6" y2="74.5" stroke="#333333" stroke-width="1"/>
<polyline points="459.6,61 461,61.71 458.2,63.12 461,64.54 458.2,65.96 461,67.38 458.2,68.79 459.6,69.5" stroke="#2f2ff5" stroke-width="1.05" fill="none"/>
<line x1="432" y1="69.5" x2="432" y2="82.2" stroke="#23239b" stroke-width="1"/>
<line x1="459.6" y1="69.5" x2="459.6" y2="82.2" stroke="#23239b" stroke-width="1"/>
<line x1="432" y1="105.5" x2="432" y2="115.5" stroke="#333333" stroke-width="1"/>
<line x1="459.6" y1="105.5" x2="459.6" y2="115.5" stroke="#333333" stroke-width="1"/>
<text x="433.8" y="64" font-size="5" fill="#111111" font-weight="bold" font-family='"Liberation Sans", sans-serif' text-anchor="start" stroke="#111111" stroke-width="0.22">R9</text>
<text x="433.8" y="69.8" font-size="5" fill="#111111" font-weight="bold" font-family='"Liberation Sans", sans-serif' text-anchor="start" stroke="#111111" stroke-width="0.22">10.0k</text>
<text x="461.4" y="64" font-size="5" fill="#111111" font-weight="bold" font-family='"Liberation Sans", sans-serif' text-anchor="start" stroke="#111111" stroke-width="0.22">R10</text>
<text x="461.4" y="69.8" font-size="5" fill="#111111" font-weight="bold" font-family='"Liberation Sans", sans-serif' text-anchor="start" stroke="#111111" stroke-width="0.22">10.0k</text>
<line x1="393.4" y1="82.2" x2="432" y2="82.2" stroke="#23239b" stroke-width="1"/>
<line x1="459.6" y1="82.2" x2="503.4" y2="82.2" stroke="#23239b" stroke-width="1"/>
<text x="399.3" y="81.4" font-size="4.85" fill="#8f0a0a" font-weight="bold" font-family='"Liberation Sans", sans-serif' text-anchor="start" stroke="#8f0a0a" stroke-width="0.22">FORCEON_1</text>
<text x="465" y="81.4" font-size="4.85" fill="#8f0a0a" font-weight="bold" font-family='"Liberation Sans", sans-serif' text-anchor="start" stroke="#8f0a0a" stroke-width="0.22">FORCEOFF_1</text>
<circle cx="432" cy="82.2" r="1.55" fill="#23239b"/>
<circle cx="459.6" cy="82.2" r="1.55" fill="#23239b"/>
<text x="434.6" y="91.8" font-size="4.4" fill="#a0a0a0" font-weight="normal" font-family='"Liberation Sans", sans-serif' text-anchor="start" textLength="8" lengthAdjust="spacingAndGlyphs">R54</text>
<text x="434.6" y="97.8" font-size="4.4" fill="#a0a0a0" font-weight="normal" font-family='"Liberation Sans", sans-serif' text-anchor="start" textLength="11.5" lengthAdjust="spacingAndGlyphs">10.0k</text>
<text x="462.2" y="91.8" font-size="4.4" fill="#a0a0a0" font-weight="normal" font-family='"Liberation Sans", sans-serif' text-anchor="start" textLength="8" lengthAdjust="spacingAndGlyphs">R55</text>
<text x="462.2" y="97.8" font-size="4.4" fill="#a0a0a0" font-weight="normal" font-family='"Liberation Sans", sans-serif' text-anchor="start" textLength="11.5" lengthAdjust="spacingAndGlyphs">10.0k</text>
<line x1="429.9" y1="82" x2="434.6" y2="105.8" stroke="#ff1010" stroke-width="1.4"/>
<line x1="429.9" y1="105.8" x2="434.6" y2="82" stroke="#ff1010" stroke-width="1.4"/>
<line x1="457.5" y1="82" x2="462.2" y2="105.8" stroke="#ff1010" stroke-width="1.4"/>
<line x1="457.5" y1="105.8" x2="462.2" y2="82" stroke="#ff1010" stroke-width="1.4"/>
<line x1="432" y1="110.5" x2="432" y2="115.5" stroke="#861a1a" stroke-width="1"/>
<line x1="426.3" y1="115.8" x2="437.7" y2="115.8" stroke="#861a1a" stroke-width="1.1"/>
<line x1="428.3" y1="117.9" x2="435.7" y2="117.9" stroke="#861a1a" stroke-width="1"/>
<line x1="430.4" y1="119.9" x2="433.6" y2="119.9" stroke="#861a1a" stroke-width="1"/>
<text x="432" y="125.8" font-size="5.4" fill="#861a1a" font-weight="bold" font-family='"Liberation Serif", serif' text-anchor="middle" textLength="13" lengthAdjust="spacingAndGlyphs" stroke="#861a1a" stroke-width="0.2">GND2</text>
<line x1="459.6" y1="110.5" x2="459.6" y2="115.5" stroke="#861a1a" stroke-width="1"/>
<line x1="453.9" y1="115.8" x2="465.3" y2="115.8" stroke="#861a1a" stroke-width="1.1"/>
<line x1="455.9" y1="117.9" x2="463.3" y2="117.9" stroke="#861a1a" stroke-width="1"/>
<line x1="458" y1="119.9" x2="461.2" y2="119.9" stroke="#861a1a" stroke-width="1"/>
<text x="459.6" y="125.8" font-size="5.4" fill="#861a1a" font-weight="bold" font-family='"Liberation Serif", serif' text-anchor="middle" textLength="13" lengthAdjust="spacingAndGlyphs" stroke="#861a1a" stroke-width="0.2">GND2</text>
<line x1="558.6" y1="16.5" x2="583" y2="16.5" stroke="#23239b" stroke-width="1"/>
<line x1="583" y1="16.5" x2="597.4" y2="16.5" stroke="#333333" stroke-width="1"/>
<line x1="603.4" y1="16.5" x2="608.1" y2="16.5" stroke="#2f2ff5" stroke-width="1"/>
<line x1="614.7" y1="16.5" x2="625" y2="16.5" stroke="#333333" stroke-width="1"/>
<line x1="625" y1="16.5" x2="674.6" y2="16.5" stroke="#23239b" stroke-width="1"/>
<text x="558.6" y="15.6" font-size="4.9" fill="#8f0a0a" font-weight="bold" font-family='"Liberation Sans", sans-serif' text-anchor="start" stroke="#8f0a0a" stroke-width="0.22">DCD_OUT</text>
<polygon points="597.4,16.5 603.4,10.5 603.4,22.5" stroke="#2f2ff5" stroke-width="0.5" fill="#2f2ff5"/>
<line x1="595.3" y1="23.1" x2="600.1" y2="10.3" stroke="#2f2ff5" stroke-width="1.1"/>
<line x1="599" y1="13.5" x2="601.4" y2="9.3" stroke="#2f2ff5" stroke-width="0.7"/>
<polygon points="614.7,16.5 608.1,10.5 608.1,22.5" stroke="#2f2ff5" stroke-width="0.5" fill="#2f2ff5"/>
<line x1="611.8" y1="22.7" x2="616.6" y2="9.9" stroke="#2f2ff5" stroke-width="1.1"/>
<line x1="610.7" y1="23.7" x2="613.1" y2="19.5" stroke="#2f2ff5" stroke-width="0.7"/>
<text x="591.5" y="10.6" font-size="5" fill="#111111" font-weight="bold" font-family='"Liberation Sans", sans-serif' text-anchor="start" stroke="#111111" stroke-width="0.22">D15</text>
<text x="590.8" y="15.5" font-size="3.8" fill="#111111" font-weight="bold" font-family='"Liberation Sans", sans-serif' text-anchor="start" stroke="#111111" stroke-width="0.22">1</text>
<text x="618" y="15.3" font-size="3.6" fill="#111111" font-weight="bold" font-family='"Liberation Sans", sans-serif' text-anchor="start" stroke="#111111" stroke-width="0.22">2</text>
<text x="621.6" y="14.5" font-size="4.95" fill="#111111" font-weight="bold" font-family='"Liberation Sans", sans-serif' text-anchor="start" stroke="#111111" stroke-width="0.22">CDSOD323-T12C</text>
<line x1="558.6" y1="33.03" x2="583" y2="33.03" stroke="#23239b" stroke-width="1"/>
<line x1="583" y1="33.03" x2="597.4" y2="33.03" stroke="#333333" stroke-width="1"/>
<line x1="603.4" y1="33.03" x2="608.1" y2="33.03" stroke="#2f2ff5" stroke-width="1"/>
<line x1="614.7" y1="33.03" x2="625" y2="33.03" stroke="#333333" stroke-width="1"/>
<line x1="625" y1="33.03" x2="674.6" y2="33.03" stroke="#23239b" stroke-width="1"/>
<text x="558.6" y="32.13" font-size="4.9" fill="#8f0a0a" font-weight="bold" font-family='"Liberation Sans", sans-serif' text-anchor="start" stroke="#8f0a0a" stroke-width="0.22">RX_IN_T</text>
<polygon points="597.4,33.03 603.4,27.03 603.4,39.03" stroke="#2f2ff5" stroke-width="0.5" fill="#2f2ff5"/>
<line x1="595.3" y1="39.63" x2="600.1" y2="26.83" stroke="#2f2ff5" stroke-width="1.1"/>
<line x1="599" y1="30.03" x2="601.4" y2="25.83" stroke="#2f2ff5" stroke-width="0.7"/>
<polygon points="614.7,33.03 608.1,27.03 608.1,39.03" stroke="#2f2ff5" stroke-width="0.5" fill="#2f2ff5"/>
<line x1="611.8" y1="39.23" x2="616.6" y2="26.43" stroke="#2f2ff5" stroke-width="1.1"/>
<line x1="610.7" y1="40.23" x2="613.1" y2="36.03" stroke="#2f2ff5" stroke-width="0.7"/>
<text x="591.5" y="27.13" font-size="5" fill="#111111" font-weight="bold" font-family='"Liberation Sans", sans-serif' text-anchor="start" stroke="#111111" stroke-width="0.22">D16</text>
<text x="590.8" y="32.03" font-size="3.8" fill="#111111" font-weight="bold" font-family='"Liberation Sans", sans-serif' text-anchor="start" stroke="#111111" stroke-width="0.22">1</text>
<text x="618" y="31.83" font-size="3.6" fill="#111111" font-weight="bold" font-family='"Liberation Sans", sans-serif' text-anchor="start" stroke="#111111" stroke-width="0.22">2</text>
<text x="621.6" y="31.03" font-size="4.95" fill="#111111" font-weight="bold" font-family='"Liberation Sans", sans-serif' text-anchor="start" stroke="#111111" stroke-width="0.22">CDSOD323-T12C</text>
<circle cx="674.6" cy="33.03" r="1.55" fill="#23239b"/>
<line x1="558.6" y1="49.56" x2="583" y2="49.56" stroke="#23239b" stroke-width="1"/>
<line x1="583" y1="49.56" x2="597.4" y2="49.56" stroke="#333333" stroke-width="1"/>
<line x1="603.4" y1="49.56" x2="608.1" y2="49.56" stroke="#2f2ff5" stroke-width="1"/>
<line x1="614.7" y1="49.56" x2="625" y2="49.56" stroke="#333333" stroke-width="1"/>
<line x1="625" y1="49.56" x2="674.6" y2="49.56" stroke="#23239b" stroke-width="1"/>
<text x="558.6" y="48.66" font-size="4.9" fill="#8f0a0a" font-weight="bold" font-family='"Liberation Sans", sans-serif' text-anchor="start" stroke="#8f0a0a" stroke-width="0.22">TX_OUT_T</text>
<polygon points="597.4,49.56 603.4,43.56 603.4,55.56" stroke="#2f2ff5" stroke-width="0.5" fill="#2f2ff5"/>
<line x1="595.3" y1="56.16" x2="600.1" y2="43.36" stroke="#2f2ff5" stroke-width="1.1"/>
<line x1="599" y1="46.56" x2="601.4" y2="42.36" stroke="#2f2ff5" stroke-width="0.7"/>
<polygon points="614.7,49.56 608.1,43.56 608.1,55.56" stroke="#2f2ff5" stroke-width="0.5" fill="#2f2ff5"/>
<line x1="611.8" y1="55.76" x2="616.6" y2="42.96" stroke="#2f2ff5" stroke-width="1.1"/>
<line x1="610.7" y1="56.76" x2="613.1" y2="52.56" stroke="#2f2ff5" stroke-width="0.7"/>
<text x="591.5" y="43.66" font-size="5" fill="#111111" font-weight="bold" font-family='"Liberation Sans", sans-serif' text-anchor="start" stroke="#111111" stroke-width="0.22">D17</text>
<text x="590.8" y="48.56" font-size="3.8" fill="#111111" font-weight="bold" font-family='"Liberation Sans", sans-serif' text-anchor="start" stroke="#111111" stroke-width="0.22">1</text>
<text x="618" y="48.36" font-size="3.6" fill="#111111" font-weight="bold" font-family='"Liberation Sans", sans-serif' text-anchor="start" stroke="#111111" stroke-width="0.22">2</text>
<text x="621.6" y="47.56" font-size="4.95" fill="#111111" font-weight="bold" font-family='"Liberation Sans", sans-serif' text-anchor="start" stroke="#111111" stroke-width="0.22">CDSOD323-T12C</text>
<circle cx="674.6" cy="49.56" r="1.55" fill="#23239b"/>
<line x1="558.6" y1="66.09" x2="583" y2="66.09" stroke="#23239b" stroke-width="1"/>
<line x1="583" y1="66.09" x2="597.4" y2="66.09" stroke="#333333" stroke-width="1"/>
<line x1="603.4" y1="66.09" x2="608.1" y2="66.09" stroke="#2f2ff5" stroke-width="1"/>
<line x1="614.7" y1="66.09" x2="625" y2="66.09" stroke="#333333" stroke-width="1"/>
<line x1="625" y1="66.09" x2="674.6" y2="66.09" stroke="#23239b" stroke-width="1"/>
<text x="558.6" y="65.19" font-size="4.9" fill="#8f0a0a" font-weight="bold" font-family='"Liberation Sans", sans-serif' text-anchor="start" stroke="#8f0a0a" stroke-width="0.22">DTR_IN</text>
<polygon points="597.4,66.09 603.4,60.09 603.4,72.09" stroke="#2f2ff5" stroke-width="0.5" fill="#2f2ff5"/>
<line x1="595.3" y1="72.69" x2="600.1" y2="59.89" stroke="#2f2ff5" stroke-width="1.1"/>
<line x1="599" y1="63.09" x2="601.4" y2="58.89" stroke="#2f2ff5" stroke-width="0.7"/>
<polygon points="614.7,66.09 608.1,60.09 608.1,72.09" stroke="#2f2ff5" stroke-width="0.5" fill="#2f2ff5"/>
<line x1="611.8" y1="72.29" x2="616.6" y2="59.49" stroke="#2f2ff5" stroke-width="1.1"/>
<line x1="610.7" y1="73.29" x2="613.1" y2="69.09" stroke="#2f2ff5" stroke-width="0.7"/>
<text x="591.5" y="60.19" font-size="5" fill="#111111" font-weight="bold" font-family='"Liberation Sans", sans-serif' text-anchor="start" stroke="#111111" stroke-width="0.22">D18</text>
<text x="590.8" y="65.09" font-size="3.8" fill="#111111" font-weight="bold" font-family='"Liberation Sans", sans-serif' text-anchor="start" stroke="#111111" stroke-width="0.22">1</text>
<text x="618" y="64.89" font-size="3.6" fill="#111111" font-weight="bold" font-family='"Liberation Sans", sans-serif' text-anchor="start" stroke="#111111" stroke-width="0.22">2</text>
<text x="621.6" y="64.09" font-size="4.95" fill="#111111" font-weight="bold" font-family='"Liberation Sans", sans-serif' text-anchor="start" stroke="#111111" stroke-width="0.22">CDSOD323-T12C</text>
<circle cx="674.6" cy="66.09" r="1.55" fill="#23239b"/>
<line x1="558.6" y1="82.62" x2="583" y2="82.62" stroke="#23239b" stroke-width="1"/>
<line x1="583" y1="82.62" x2="597.4" y2="82.62" stroke="#333333" stroke-width="1"/>
<line x1="603.4" y1="82.62" x2="608.1" y2="82.62" stroke="#2f2ff5" stroke-width="1"/>
<line x1="614.7" y1="82.62" x2="625" y2="82.62" stroke="#333333" stroke-width="1"/>
<line x1="625" y1="82.62" x2="674.6" y2="82.62" stroke="#23239b" stroke-width="1"/>
<text x="558.6" y="81.72" font-size="4.9" fill="#8f0a0a" font-weight="bold" font-family='"Liberation Sans", sans-serif' text-anchor="start" stroke="#8f0a0a" stroke-width="0.22">DSR_OUT</text>
<polygon points="597.4,82.62 603.4,76.62 603.4,88.62" stroke="#2f2ff5" stroke-width="0.5" fill="#2f2ff5"/>
<line x1="595.3" y1="89.22" x2="600.1" y2="76.42" stroke="#2f2ff5" stroke-width="1.1"/>
<line x1="599" y1="79.62" x2="601.4" y2="75.42" stroke="#2f2ff5" stroke-width="0.7"/>
<polygon points="614.7,82.62 608.1,76.62 608.1,88.62" stroke="#2f2ff5" stroke-width="0.5" fill="#2f2ff5"/>
<line x1="611.8" y1="88.82" x2="616.6" y2="76.02" stroke="#2f2ff5" stroke-width="1.1"/>
<line x1="610.7" y1="89.82" x2="613.1" y2="85.62" stroke="#2f2ff5" stroke-width="0.7"/>
<text x="591.5" y="76.72" font-size="5" fill="#111111" font-weight="bold" font-family='"Liberation Sans", sans-serif' text-anchor="start" stroke="#111111" stroke-width="0.22">D19</text>
<text x="590.8" y="81.62" font-size="3.8" fill="#111111" font-weight="bold" font-family='"Liberation Sans", sans-serif' text-anchor="start" stroke="#111111" stroke-width="0.22">1</text>
<text x="618" y="81.42" font-size="3.6" fill="#111111" font-weight="bold" font-family='"Liberation Sans", sans-serif' text-anchor="start" stroke="#111111" stroke-width="0.22">2</text>
<text x="621.6" y="80.62" font-size="4.95" fill="#111111" font-weight="bold" font-family='"Liberation Sans", sans-serif' text-anchor="start" stroke="#111111" stroke-width="0.22">CDSOD323-T12C</text>
<circle cx="674.6" cy="82.62" r="1.55" fill="#23239b"/>
<line x1="558.6" y1="99.15" x2="583" y2="99.15" stroke="#23239b" stroke-width="1"/>
<line x1="583" y1="99.15" x2="597.4" y2="99.15" stroke="#333333" stroke-width="1"/>
<line x1="603.4" y1="99.15" x2="608.1" y2="99.15" stroke="#2f2ff5" stroke-width="1"/>
<line x1="614.7" y1="99.15" x2="625" y2="99.15" stroke="#333333" stroke-width="1"/>
<line x1="625" y1="99.15" x2="674.6" y2="99.15" stroke="#23239b" stroke-width="1"/>
<text x="558.6" y="98.25" font-size="4.9" fill="#8f0a0a" font-weight="bold" font-family='"Liberation Sans", sans-serif' text-anchor="start" stroke="#8f0a0a" stroke-width="0.22">RTS_IN</text>
<polygon points="597.4,99.15 603.4,93.15 603.4,105.15" stroke="#2f2ff5" stroke-width="0.5" fill="#2f2ff5"/>
<line x1="595.3" y1="105.75" x2="600.1" y2="92.95" stroke="#2f2ff5" stroke-width="1.1"/>
<line x1="599" y1="96.15" x2="601.4" y2="91.95" stroke="#2f2ff5" stroke-width="0.7"/>
<polygon points="614.7,99.15 608.1,93.15 608.1,105.15" stroke="#2f2ff5" stroke-width="0.5" fill="#2f2ff5"/>
<line x1="611.8" y1="105.35" x2="616.6" y2="92.55" stroke="#2f2ff5" stroke-width="1.1"/>
<line x1="610.7" y1="106.35" x2="613.1" y2="102.15" stroke="#2f2ff5" stroke-width="0.7"/>
<text x="591.5" y="93.25" font-size="5" fill="#111111" font-weight="bold" font-family='"Liberation Sans", sans-serif' text-anchor="start" stroke="#111111" stroke-width="0.22">D20</text>
<text x="590.8" y="98.15" font-size="3.8" fill="#111111" font-weight="bold" font-family='"Liberation Sans", sans-serif' text-anchor="start" stroke="#111111" stroke-width="0.22">1</text>
<text x="618" y="97.95" font-size="3.6" fill="#111111" font-weight="bold" font-family='"Liberation Sans", sans-serif' text-anchor="start" stroke="#111111" stroke-width="0.22">2</text>
<text x="621.6" y="97.15" font-size="4.95" fill="#111111" font-weight="bold" font-family='"Liberation Sans", sans-serif' text-anchor="start" stroke="#111111" stroke-width="0.22">CDSOD323-T12C</text>
<circle cx="674.6" cy="99.15" r="1.55" fill="#23239b"/>
<line x1="558.6" y1="115.68" x2="583" y2="115.68" stroke="#23239b" stroke-width="1"/>
<line x1="583" y1="115.68" x2="597.4" y2="115.68" stroke="#333333" stroke-width="1"/>
<line x1="603.4" y1="115.68" x2="608.1" y2="115.68" stroke="#2f2ff5" stroke-width="1"/>
<line x1="614.7" y1="115.68" x2="625" y2="115.68" stroke="#333333" stroke-width="1"/>
<line x1="625" y1="115.68" x2="674.6" y2="115.68" stroke="#23239b" stroke-width="1"/>
<text x="558.6" y="114.78" font-size="4.9" fill="#8f0a0a" font-weight="bold" font-family='"Liberation Sans", sans-serif' text-anchor="start" stroke="#8f0a0a" stroke-width="0.22">CTS_OUT</text>
<polygon points="597.4,115.68 603.4,109.68 603.4,121.68" stroke="#2f2ff5" stroke-width="0.5" fill="#2f2ff5"/>
<line x1="595.3" y1="122.28" x2="600.1" y2="109.48" stroke="#2f2ff5" stroke-width="1.1"/>
<line x1="599" y1="112.68" x2="601.4" y2="108.48" stroke="#2f2ff5" stroke-width="0.7"/>
<polygon points="614.7,115.68 608.1,109.68 608.1,121.68" stroke="#2f2ff5" stroke-width="0.5" fill="#2f2ff5"/>
<line x1="611.8" y1="121.88" x2="616.6" y2="109.08" stroke="#2f2ff5" stroke-width="1.1"/>
<line x1="610.7" y1="122.88" x2="613.1" y2="118.68" stroke="#2f2ff5" stroke-width="0.7"/>
<text x="591.5" y="109.78" font-size="5" fill="#111111" font-weight="bold" font-family='"Liberation Sans", sans-serif' text-anchor="start" stroke="#111111" stroke-width="0.22">D21</text>
<text x="590.8" y="114.68" font-size="3.8" fill="#111111" font-weight="bold" font-family='"Liberation Sans", sans-serif' text-anchor="start" stroke="#111111" stroke-width="0.22">1</text>
<text x="618" y="114.48" font-size="3.6" fill="#111111" font-weight="bold" font-family='"Liberation Sans", sans-serif' text-anchor="start" stroke="#111111" stroke-width="0.22">2</text>
<text x="621.6" y="113.68" font-size="4.95" fill="#111111" font-weight="bold" font-family='"Liberation Sans", sans-serif' text-anchor="start" stroke="#111111" stroke-width="0.22">CDSOD323-T12C</text>
<circle cx="674.6" cy="115.68" r="1.55" fill="#23239b"/>
<line x1="558.6" y1="132.21" x2="583" y2="132.21" stroke="#23239b" stroke-width="1"/>
<line x1="583" y1="132.21" x2="597.4" y2="132.21" stroke="#333333" stroke-width="1"/>
<line x1="603.4" y1="132.21" x2="608.1" y2="132.21" stroke="#2f2ff5" stroke-width="1"/>
<line x1="614.7" y1="132.21" x2="625" y2="132.21" stroke="#333333" stroke-width="1"/>
<line x1="625" y1="132.21" x2="674.6" y2="132.21" stroke="#23239b" stroke-width="1"/>
<text x="558.6" y="131.31" font-size="4.9" fill="#8f0a0a" font-weight="bold" font-family='"Liberation Sans", sans-serif' text-anchor="start" stroke="#8f0a0a" stroke-width="0.22">RI_OUT</text>
<polygon points="597.4,132.21 603.4,126.21 603.4,138.21" stroke="#2f2ff5" stroke-width="0.5" fill="#2f2ff5"/>
<line x1="595.3" y1="138.81" x2="600.1" y2="126.01" stroke="#2f2ff5" stroke-width="1.1"/>
<line x1="599" y1="129.21" x2="601.4" y2="125.01" stroke="#2f2ff5" stroke-width="0.7"/>
<polygon points="614.7,132.21 608.1,126.21 608.1,138.21" stroke="#2f2ff5" stroke-width="0.5" fill="#2f2ff5"/>
<line x1="611.8" y1="138.41" x2="616.6" y2="125.61" stroke="#2f2ff5" stroke-width="1.1"/>
<line x1="610.7" y1="139.41" x2="613.1" y2="135.21" stroke="#2f2ff5" stroke-width="0.7"/>
<text x="591.5" y="126.31" font-size="5" fill="#111111" font-weight="bold" font-family='"Liberation Sans", sans-serif' text-anchor="start" stroke="#111111" stroke-width="0.22">D22</text>
<text x="590.8" y="131.21" font-size="3.8" fill="#111111" font-weight="bold" font-family='"Liberation Sans", sans-serif' text-anchor="start" stroke="#111111" stroke-width="0.22">1</text>
<text x="618" y="131.01" font-size="3.6" fill="#111111" font-weight="bold" font-family='"Liberation Sans", sans-serif' text-anchor="start" stroke="#111111" stroke-width="0.22">2</text>
<text x="621.6" y="130.21" font-size="4.95" fill="#111111" font-weight="bold" font-family='"Liberation Sans", sans-serif' text-anchor="start" stroke="#111111" stroke-width="0.22">CDSOD323-T12C</text>
<circle cx="674.6" cy="132.21" r="1.55" fill="#23239b"/>
<line x1="674.6" y1="16.5" x2="674.6" y2="148" stroke="#23239b" stroke-width="1"/>
<line x1="674.6" y1="143" x2="674.6" y2="148" stroke="#861a1a" stroke-width="1"/>
<line x1="668.9" y1="148.3" x2="680.3" y2="148.3" stroke="#861a1a" stroke-width="1.1"/>
<line x1="670.9" y1="150.4" x2="678.3" y2="150.4" stroke="#861a1a" stroke-width="1"/>
<line x1="673" y1="152.4" x2="676.2" y2="152.4" stroke="#861a1a" stroke-width="1"/>
<text x="674.6" y="158.6" font-size="5.4" fill="#861a1a" font-weight="bold" font-family='"Liberation Serif", serif' text-anchor="middle" textLength="13" lengthAdjust="spacingAndGlyphs" stroke="#861a1a" stroke-width="0.2">GND3</text>
<line x1="427.2" y1="170.6" x2="437.2" y2="170.6" stroke="#b9b9b9" stroke-width="0.8"/>
<line x1="427.2" y1="176.1" x2="437.2" y2="176.1" stroke="#b9b9b9" stroke-width="0.8"/>
<line x1="427.2" y1="181.4" x2="437.2" y2="181.4" stroke="#b9b9b9" stroke-width="0.8"/>
<line x1="427.2" y1="192.6" x2="437.2" y2="192.6" stroke="#b9b9b9" stroke-width="0.8"/>
<line x1="427.2" y1="198.3" x2="437.2" y2="198.3" stroke="#b9b9b9" stroke-width="0.8"/>
<line x1="427.2" y1="209.1" x2="437.2" y2="209.1" stroke="#b9b9b9" stroke-width="0.8"/>
<line x1="427.2" y1="214.3" x2="437.2" y2="214.3" stroke="#b9b9b9" stroke-width="0.8"/>
<line x1="427.2" y1="225.3" x2="437.2" y2="225.3" stroke="#b9b9b9" stroke-width="0.8"/>
<line x1="427.2" y1="236.5" x2="437.2" y2="236.5" stroke="#b9b9b9" stroke-width="0.8"/>
<line x1="427.2" y1="247.6" x2="437.2" y2="247.6" stroke="#b9b9b9" stroke-width="0.8"/>
<line x1="427.2" y1="253.2" x2="437.2" y2="253.2" stroke="#b9b9b9" stroke-width="0.8"/>
<line x1="427.2" y1="264.4" x2="437.2" y2="264.4" stroke="#b9b9b9" stroke-width="0.8"/>
<line x1="427.2" y1="275.6" x2="437.2" y2="275.6" stroke="#b9b9b9" stroke-width="0.8"/>
<line x1="427.2" y1="286.3" x2="437.2" y2="286.3" stroke="#b9b9b9" stroke-width="0.8"/>
<line x1="427.2" y1="297.4" x2="437.2" y2="297.4" stroke="#b9b9b9" stroke-width="0.8"/>
<line x1="492.8" y1="170.5" x2="500.9" y2="170.5" stroke="#b9b9b9" stroke-width="0.8"/>
<line x1="492.8" y1="176.3" x2="500.9" y2="176.3" stroke="#b9b9b9" stroke-width="0.8"/>
<line x1="492.8" y1="192.6" x2="500.9" y2="192.6" stroke="#b9b9b9" stroke-width="0.8"/>
<line x1="492.8" y1="198.2" x2="500.9" y2="198.2" stroke="#b9b9b9" stroke-width="0.8"/>
<line x1="492.8" y1="209.3" x2="500.9" y2="209.3" stroke="#b9b9b9" stroke-width="0.8"/>
<line x1="492.8" y1="214.5" x2="500.9" y2="214.5" stroke="#b9b9b9" stroke-width="0.8"/>
<line x1="492.8" y1="225.3" x2="500.9" y2="225.3" stroke="#b9b9b9" stroke-width="0.8"/>
<line x1="492.8" y1="236.5" x2="500.9" y2="236.5" stroke="#b9b9b9" stroke-width="0.8"/>
<line x1="492.8" y1="247.4" x2="500.9" y2="247.4" stroke="#b9b9b9" stroke-width="0.8"/>
<line x1="492.8" y1="264.3" x2="500.9" y2="264.3" stroke="#b9b9b9" stroke-width="0.8"/>
<line x1="492.8" y1="274.7" x2="500.9" y2="274.7" stroke="#b9b9b9" stroke-width="0.8"/>
<line x1="492.8" y1="286.2" x2="500.9" y2="286.2" stroke="#b9b9b9" stroke-width="0.8"/>
<line x1="492.8" y1="297" x2="500.9" y2="297" stroke="#b9b9b9" stroke-width="0.8"/>
<rect x="437.2" y="164.8" width="55.6" height="138" fill="#c0c0c0" stroke="none" stroke-width="1"/>
<text x="437.6" y="163.4" font-size="5.3" fill="#a0a0a0" font-weight="normal" font-family='"Liberation Serif", serif' text-anchor="start" textLength="8.5" lengthAdjust="spacingAndGlyphs">U14</text>
<text x="439" y="306.6" font-size="4" fill="#a0a0a0" font-weight="normal" font-family='"Liberation Sans", sans-serif' text-anchor="start" textLength="39" lengthAdjust="spacingAndGlyphs">TRSF3223EIDBWR</text>
<line x1="393.6" y1="170.6" x2="427.2" y2="170.6" stroke="#23239b" stroke-width="1"/>
<text x="398.8" y="169.9" font-size="4.85" fill="#8f0a0a" font-weight="bold" font-family='"Liberation Sans", sans-serif' text-anchor="start" stroke="#8f0a0a" stroke-width="0.22">TX_OUT_1</text>
<line x1="393.6" y1="176.1" x2="427.2" y2="176.1" stroke="#23239b" stroke-width="1"/>
<text x="398.8" y="175.4" font-size="4.85" fill="#8f0a0a" font-weight="bold" font-family='"Liberation Sans", sans-serif' text-anchor="start" stroke="#8f0a0a" stroke-width="0.22">RX_IN_1</text>
<line x1="393.6" y1="192.6" x2="427.2" y2="192.6" stroke="#23239b" stroke-width="1"/>
<text x="393.6" y="191.9" font-size="4.85" fill="#8f0a0a" font-weight="bold" font-family='"Liberation Sans", sans-serif' text-anchor="start" stroke="#8f0a0a" stroke-width="0.22">CTS_OUT_1</text>
<line x1="393.6" y1="198.3" x2="427.2" y2="198.3" stroke="#23239b" stroke-width="1"/>
<text x="398.8" y="197.6" font-size="4.85" fill="#8f0a0a" font-weight="bold" font-family='"Liberation Sans", sans-serif' text-anchor="start" stroke="#8f0a0a" stroke-width="0.22">RTS_IN_1</text>
<line x1="393.6" y1="209.1" x2="427.2" y2="209.1" stroke="#23239b" stroke-width="1"/>
<text x="393.6" y="208.4" font-size="4.85" fill="#8f0a0a" font-weight="bold" font-family='"Liberation Sans", sans-serif' text-anchor="start" stroke="#8f0a0a" stroke-width="0.22">DSR_OUT_1</text>
<line x1="393.6" y1="214.3" x2="427.2" y2="214.3" stroke="#23239b" stroke-width="1"/>
<text x="393.6" y="213.6" font-size="4.85" fill="#8f0a0a" font-weight="bold" font-family='"Liberation Sans", sans-serif' text-anchor="start" stroke="#8f0a0a" stroke-width="0.22">DTR_IN_1</text>
<line x1="393.6" y1="225.3" x2="427.2" y2="225.3" stroke="#23239b" stroke-width="1"/>
<text x="398.8" y="224.6" font-size="4.85" fill="#8f0a0a" font-weight="bold" font-family='"Liberation Sans", sans-serif' text-anchor="start" stroke="#8f0a0a" stroke-width="0.22">DCD_OUT_1</text>
<line x1="393.6" y1="236.5" x2="427.2" y2="236.5" stroke="#23239b" stroke-width="1"/>
<text x="398.8" y="235.8" font-size="4.85" fill="#8f0a0a" font-weight="bold" font-family='"Liberation Sans", sans-serif' text-anchor="start" stroke="#8f0a0a" stroke-width="0.22">RI_OUT_1</text>
<line x1="393.6" y1="247.6" x2="427.2" y2="247.6" stroke="#23239b" stroke-width="1"/>
<text x="393.3" y="246.9" font-size="4.85" fill="#8f0a0a" font-weight="bold" font-family='"Liberation Sans", sans-serif' text-anchor="start" stroke="#8f0a0a" stroke-width="0.22">FORCEON_1</text>
<line x1="393.6" y1="253.2" x2="427.2" y2="253.2" stroke="#23239b" stroke-width="1"/>
<text x="393.3" y="252.5" font-size="4.85" fill="#8f0a0a" font-weight="bold" font-family='"Liberation Sans", sans-serif' text-anchor="start" stroke="#8f0a0a" stroke-width="0.22">FORCEOFF_1</text>
<text x="429" y="169.9" font-size="4.6" fill="#a0a0a0" font-weight="normal" font-family='"Liberation Sans", sans-serif' text-anchor="start">24</text>
<text x="429" y="175.4" font-size="4.6" fill="#a0a0a0" font-weight="normal" font-family='"Liberation Sans", sans-serif' text-anchor="start">23</text>
<text x="429" y="180.7" font-size="4.6" fill="#a0a0a0" font-weight="normal" font-family='"Liberation Sans", sans-serif' text-anchor="start">15</text>
<text x="429" y="191.9" font-size="4.6" fill="#a0a0a0" font-weight="normal" font-family='"Liberation Sans", sans-serif' text-anchor="start">23</text>
<text x="429" y="197.6" font-size="4.6" fill="#a0a0a0" font-weight="normal" font-family='"Liberation Sans", sans-serif' text-anchor="start">20</text>
<text x="429" y="208.4" font-size="4.6" fill="#a0a0a0" font-weight="normal" font-family='"Liberation Sans", sans-serif' text-anchor="start">22</text>
<text x="429" y="213.6" font-size="4.6" fill="#a0a0a0" font-weight="normal" font-family='"Liberation Sans", sans-serif' text-anchor="start">18</text>
<text x="429" y="224.6" font-size="4.6" fill="#a0a0a0" font-weight="normal" font-family='"Liberation Sans", sans-serif' text-anchor="start">19</text>
<text x="429" y="235.8" font-size="4.6" fill="#a0a0a0" font-weight="normal" font-family='"Liberation Sans", sans-serif' text-anchor="start">17</text>
<text x="429" y="246.9" font-size="4.6" fill="#a0a0a0" font-weight="normal" font-family='"Liberation Sans", sans-serif' text-anchor="start">13</text>
<text x="429" y="252.5" font-size="4.6" fill="#a0a0a0" font-weight="normal" font-family='"Liberation Sans", sans-serif' text-anchor="start">14</text>
<text x="429" y="263.7" font-size="4.6" fill="#a0a0a0" font-weight="normal" font-family='"Liberation Sans", sans-serif' text-anchor="start">28</text>
<text x="429" y="274.9" font-size="4.6" fill="#a0a0a0" font-weight="normal" font-family='"Liberation Sans", sans-serif' text-anchor="start">25</text>
<text x="429" y="285.6" font-size="4.6" fill="#a0a0a0" font-weight="normal" font-family='"Liberation Sans", sans-serif' text-anchor="start">27</text>
<text x="429" y="296.7" font-size="4.6" fill="#a0a0a0" font-weight="normal" font-family='"Liberation Sans", sans-serif' text-anchor="start">6</text>
<polyline points="427.2,264.4 421.6,264.4 421.6,258.9 399.2,258.9 399.2,280.9 415.7,280.9 415.7,275.6 427.2,275.6" stroke="#23239b" stroke-width="1" fill="none"/>
<rect x="394.2" y="265.2" width="10" height="4" fill="#ffffff" stroke="none" stroke-width="1"/>
<line x1="399.2" y1="260.7" x2="399.2" y2="265.7" stroke="#333333" stroke-width="1"/>
<line x1="399.2" y1="268.4" x2="399.2" y2="273.4" stroke="#333333" stroke-width="1"/>
<line x1="394.5" y1="265.7" x2="403.9" y2="265.7" stroke="#4a4aff" stroke-width="1.2"/>
<line x1="394.5" y1="268.4" x2="403.9" y2="268.4" stroke="#4a4aff" stroke-width="1.2"/>
<text x="404" y="268.2" font-size="5" fill="#111111" font-weight="bold" font-family='"Liberation Sans", sans-serif' text-anchor="start" stroke="#111111" stroke-width="0.22">C14</text>
<text x="404" y="274.3" font-size="5" fill="#111111" font-weight="bold" font-family='"Liberation Sans", sans-serif' text-anchor="start" stroke="#111111" stroke-width="0.22">0.1µF</text>
<polyline points="427.2,286.3 399.2,286.3 399.2,314" stroke="#23239b" stroke-width="1" fill="none"/>
<line x1="399.2" y1="293.5" x2="399.2" y2="298.5" stroke="#333333" stroke-width="1"/>
<line x1="399.2" y1="301.1" x2="399.2" y2="306.1" stroke="#333333" stroke-width="1"/>
<line x1="394.5" y1="298.5" x2="403.9" y2="298.5" stroke="#4a4aff" stroke-width="1.2"/>
<line x1="394.5" y1="301.1" x2="403.9" y2="301.1" stroke="#4a4aff" stroke-width="1.2"/>
<line x1="399.2" y1="309" x2="399.2" y2="314" stroke="#861a1a" stroke-width="1"/>
<line x1="393.5" y1="314.3" x2="404.9" y2="314.3" stroke="#861a1a" stroke-width="1.1"/>
<line x1="395.5" y1="316.4" x2="402.9" y2="316.4" stroke="#861a1a" stroke-width="1"/>
<line x1="397.6" y1="318.4" x2="400.8" y2="318.4" stroke="#861a1a" stroke-width="1"/>
<text x="399.2" y="324.3" font-size="5.4" fill="#861a1a" font-weight="bold" font-family='"Liberation Serif", serif' text-anchor="middle" textLength="13" lengthAdjust="spacingAndGlyphs" stroke="#861a1a" stroke-width="0.2">GND2</text>
<text x="403.8" y="300.8" font-size="5" fill="#111111" font-weight="bold" font-family='"Liberation Sans", sans-serif' text-anchor="start" stroke="#111111" stroke-width="0.22">C19</text>
<text x="403.8" y="306.8" font-size="5" fill="#111111" font-weight="bold" font-family='"Liberation Sans", sans-serif' text-anchor="start" stroke="#111111" stroke-width="0.22">0.1µF</text>
<polyline points="427.2,297.4 420.9,297.4 420.9,341.5 459.5,341.5" stroke="#23239b" stroke-width="1" fill="none"/>
<text x="459.5" y="312.9" font-size="5.4" fill="#861a1a" font-weight="bold" font-family='"Liberation Serif", serif' text-anchor="middle" textLength="12.5" lengthAdjust="spacingAndGlyphs" stroke="#861a1a" stroke-width="0.2">VCC2</text>
<line x1="456.5" y1="314.5" x2="462.5" y2="314.5" stroke="#861a1a" stroke-width="1"/>
<line x1="459.5" y1="314.5" x2="459.5" y2="319.5" stroke="#861a1a" stroke-width="1"/>
<line x1="459.5" y1="314.5" x2="459.5" y2="326.6" stroke="#23239b" stroke-width="1"/>
<line x1="459.5" y1="321.6" x2="459.5" y2="326.6" stroke="#333333" stroke-width="1"/>
<line x1="459.5" y1="334.5" x2="459.5" y2="339.5" stroke="#333333" stroke-width="1"/>
<polyline points="459.5,326.6 460.9,327.26 458.1,328.58 460.9,329.89 458.1,331.21 460.9,332.52 458.1,333.84 459.5,334.5" stroke="#2f2ff5" stroke-width="1.05" fill="none"/>
<line x1="459.5" y1="334.5" x2="459.5" y2="363.2" stroke="#23239b" stroke-width="1"/>
<circle cx="459.5" cy="341.5" r="1.55" fill="#23239b"/>
<line x1="459.5" y1="343.4" x2="459.5" y2="348.4" stroke="#333333" stroke-width="1"/>
<line x1="459.5" y1="351" x2="459.5" y2="356" stroke="#333333" stroke-width="1"/>
<line x1="454.8" y1="348.4" x2="464.2" y2="348.4" stroke="#4a4aff" stroke-width="1.2"/>
<line x1="454.8" y1="351" x2="464.2" y2="351" stroke="#4a4aff" stroke-width="1.2"/>
<line x1="459.5" y1="358.2" x2="459.5" y2="363.2" stroke="#861a1a" stroke-width="1"/>
<line x1="453.8" y1="363.5" x2="465.2" y2="363.5" stroke="#861a1a" stroke-width="1.1"/>
<line x1="455.8" y1="365.6" x2="463.2" y2="365.6" stroke="#861a1a" stroke-width="1"/>
<line x1="457.9" y1="367.6" x2="461.1" y2="367.6" stroke="#861a1a" stroke-width="1"/>
<text x="459.5" y="373.3" font-size="5.4" fill="#861a1a" font-weight="bold" font-family='"Liberation Serif", serif' text-anchor="middle" textLength="13" lengthAdjust="spacingAndGlyphs" stroke="#861a1a" stroke-width="0.2">GND2</text>
<text x="461.6" y="328.4" font-size="5" fill="#111111" font-weight="bold" font-family='"Liberation Sans", sans-serif' text-anchor="start" stroke="#111111" stroke-width="0.22">R50</text>
<text x="461.6" y="334.4" font-size="5" fill="#111111" font-weight="bold" font-family='"Liberation Sans", sans-serif' text-anchor="start" stroke="#111111" stroke-width="0.22">0</text>
<text x="464.4" y="350.5" font-size="5" fill="#111111" font-weight="bold" font-family='"Liberation Sans", sans-serif' text-anchor="start" stroke="#111111" stroke-width="0.22">C20</text>
<text x="464.4" y="356.5" font-size="5" fill="#111111" font-weight="bold" font-family='"Liberation Sans", sans-serif' text-anchor="start" stroke="#111111" stroke-width="0.22">0.1µF</text>
<polyline points="500.9,170.5 542.3,170.5 542.3,165.1 553.4,165.1" stroke="#23239b" stroke-width="1" fill="none"/>
<polyline points="500.9,176.3 542.3,176.3 542.3,192.3 553.4,192.3" stroke="#23239b" stroke-width="1" fill="none"/>
<text x="514.4" y="169.8" font-size="4.85" fill="#8f0a0a" font-weight="bold" font-family='"Liberation Sans", sans-serif' text-anchor="start" stroke="#8f0a0a" stroke-width="0.22">TX_OUT_T</text>
<text x="514.4" y="175.6" font-size="4.85" fill="#8f0a0a" font-weight="bold" font-family='"Liberation Sans", sans-serif' text-anchor="start" stroke="#8f0a0a" stroke-width="0.22">RX_IN_T</text>
<line x1="500.9" y1="192.6" x2="531.1" y2="192.6" stroke="#23239b" stroke-width="1"/>
<text x="509.2" y="191.9" font-size="4.85" fill="#8f0a0a" font-weight="bold" font-family='"Liberation Sans", sans-serif' text-anchor="start" stroke="#8f0a0a" stroke-width="0.22">CTS_OUT</text>
<line x1="500.9" y1="198.2" x2="531.1" y2="198.2" stroke="#23239b" stroke-width="1"/>
<text x="509.2" y="197.5" font-size="4.85" fill="#8f0a0a" font-weight="bold" font-family='"Liberation Sans", sans-serif' text-anchor="start" stroke="#8f0a0a" stroke-width="0.22">RTS_IN</text>
<line x1="500.9" y1="209.3" x2="531.1" y2="209.3" stroke="#23239b" stroke-width="1"/>
<text x="509.2" y="208.6" font-size="4.85" fill="#8f0a0a" font-weight="bold" font-family='"Liberation Sans", sans-serif' text-anchor="start" stroke="#8f0a0a" stroke-width="0.22">DSR_OUT</text>
<line x1="500.9" y1="214.5" x2="531.1" y2="214.5" stroke="#23239b" stroke-width="1"/>
<text x="509.2" y="213.8" font-size="4.85" fill="#8f0a0a" font-weight="bold" font-family='"Liberation Sans", sans-serif' text-anchor="start" stroke="#8f0a0a" stroke-width="0.22">DTR_IN</text>
<line x1="500.9" y1="225.3" x2="531.1" y2="225.3" stroke="#23239b" stroke-width="1"/>
<text x="509.2" y="224.6" font-size="4.85" fill="#8f0a0a" font-weight="bold" font-family='"Liberation Sans", sans-serif' text-anchor="start" stroke="#8f0a0a" stroke-width="0.22">DCD_OUT</text>
<line x1="500.9" y1="236.5" x2="531.1" y2="236.5" stroke="#23239b" stroke-width="1"/>
<text x="509.2" y="235.8" font-size="4.85" fill="#8f0a0a" font-weight="bold" font-family='"Liberation Sans", sans-serif' text-anchor="start" stroke="#8f0a0a" stroke-width="0.22">RI_OUT</text>
<line x1="500.9" y1="247.4" x2="559.7" y2="247.4" stroke="#23239b" stroke-width="1"/>
<text x="514.6" y="246.7" font-size="4.85" fill="#8f0a0a" font-weight="bold" font-family='"Liberation Sans", sans-serif' text-anchor="start" stroke="#8f0a0a" stroke-width="0.22">INVALID_1</text>
<polyline points="557.4,241.4 559.7,244.6 562,241.4" stroke="#2f2ff5" stroke-width="0.9" fill="none"/>
<line x1="559.7" y1="244.6" x2="559.7" y2="247.4" stroke="#2f2ff5" stroke-width="0.9"/>
<text x="553.6" y="236" font-size="5" fill="#111111" font-weight="bold" font-family='"Liberation Sans", sans-serif' text-anchor="start" stroke="#111111" stroke-width="0.22">TP6</text>
<text x="495" y="169.8" font-size="4.6" fill="#a0a0a0" font-weight="normal" font-family='"Liberation Sans", sans-serif' text-anchor="start">5</text>
<text x="495" y="175.6" font-size="4.6" fill="#a0a0a0" font-weight="normal" font-family='"Liberation Sans", sans-serif' text-anchor="start">4</text>
<text x="495" y="191.9" font-size="4.6" fill="#a0a0a0" font-weight="normal" font-family='"Liberation Sans", sans-serif' text-anchor="start">6</text>
<text x="495" y="197.5" font-size="4.6" fill="#a0a0a0" font-weight="normal" font-family='"Liberation Sans", sans-serif' text-anchor="start">9</text>
<text x="495" y="208.6" font-size="4.6" fill="#a0a0a0" font-weight="normal" font-family='"Liberation Sans", sans-serif' text-anchor="start">7</text>
<text x="495" y="213.8" font-size="4.6" fill="#a0a0a0" font-weight="normal" font-family='"Liberation Sans", sans-serif' text-anchor="start">11</text>
<text x="495" y="224.6" font-size="4.6" fill="#a0a0a0" font-weight="normal" font-family='"Liberation Sans", sans-serif' text-anchor="start">10</text>
<text x="495" y="235.8" font-size="4.6" fill="#a0a0a0" font-weight="normal" font-family='"Liberation Sans", sans-serif' text-anchor="start">12</text>
<text x="495" y="246.7" font-size="4.6" fill="#a0a0a0" font-weight="normal" font-family='"Liberation Sans", sans-serif' text-anchor="start">16</text>
<text x="495" y="263.6" font-size="4.6" fill="#a0a0a0" font-weight="normal" font-family='"Liberation Sans", sans-serif' text-anchor="start">1</text>
<text x="495" y="274" font-size="4.6" fill="#a0a0a0" font-weight="normal" font-family='"Liberation Sans", sans-serif' text-anchor="start">3</text>
<text x="495" y="285.5" font-size="4.6" fill="#a0a0a0" font-weight="normal" font-family='"Liberation Sans", sans-serif' text-anchor="start">4</text>
<text x="495" y="296.3" font-size="4.6" fill="#a0a0a0" font-weight="normal" font-family='"Liberation Sans", sans-serif' text-anchor="start">2</text>
<polyline points="500.9,264.3 521.6,264.3 521.6,253.9 526.2,253.9 526.2,280.4 521.6,280.4 521.6,274.7 500.9,274.7" stroke="#23239b" stroke-width="1" fill="none"/>
<rect x="521.3" y="265.3" width="10" height="4" fill="#ffffff" stroke="none" stroke-width="1"/>
<line x1="526.2" y1="261.4" x2="526.2" y2="266.4" stroke="#333333" stroke-width="1"/>
<line x1="526.2" y1="269" x2="526.2" y2="274" stroke="#333333" stroke-width="1"/>
<line x1="521.5" y1="266.4" x2="530.9" y2="266.4" stroke="#4a4aff" stroke-width="1.2"/>
<line x1="521.5" y1="269" x2="530.9" y2="269" stroke="#4a4aff" stroke-width="1.2"/>
<text x="530.8" y="268" font-size="5" fill="#111111" font-weight="bold" font-family='"Liberation Sans", sans-serif' text-anchor="start" stroke="#111111" stroke-width="0.22">C15</text>
<text x="530.8" y="274" font-size="5" fill="#111111" font-weight="bold" font-family='"Liberation Sans", sans-serif' text-anchor="start" stroke="#111111" stroke-width="0.22">0.1µF</text>
<polyline points="500.9,286.2 520.4,286.2 520.4,308.1" stroke="#23239b" stroke-width="1" fill="none"/>
<line x1="520.4" y1="288.2" x2="520.4" y2="293.2" stroke="#333333" stroke-width="1"/>
<line x1="520.4" y1="295.6" x2="520.4" y2="300.6" stroke="#333333" stroke-width="1"/>
<line x1="515.7" y1="293.2" x2="525.1" y2="293.2" stroke="#4a4aff" stroke-width="1.2"/>
<line x1="515.7" y1="295.6" x2="525.1" y2="295.6" stroke="#4a4aff" stroke-width="1.2"/>
<line x1="520.4" y1="303.1" x2="520.4" y2="308.1" stroke="#861a1a" stroke-width="1"/>
<line x1="514.7" y1="308.4" x2="526.1" y2="308.4" stroke="#861a1a" stroke-width="1.1"/>
<line x1="516.7" y1="310.5" x2="524.1" y2="310.5" stroke="#861a1a" stroke-width="1"/>
<line x1="518.8" y1="312.5" x2="522" y2="312.5" stroke="#861a1a" stroke-width="1"/>
<text x="520.4" y="318.7" font-size="5.4" fill="#861a1a" font-weight="bold" font-family='"Liberation Serif", serif' text-anchor="middle" textLength="13" lengthAdjust="spacingAndGlyphs" stroke="#861a1a" stroke-width="0.2">GND2</text>
<text x="525" y="295.2" font-size="5" fill="#111111" font-weight="bold" font-family='"Liberation Sans", sans-serif' text-anchor="start" stroke="#111111" stroke-width="0.22">C18</text>
<text x="525" y="301.2" font-size="5" fill="#111111" font-weight="bold" font-family='"Liberation Sans", sans-serif' text-anchor="start" stroke="#111111" stroke-width="0.22">0.1µF</text>
<polyline points="500.9,297 508.9,297 508.9,312.8" stroke="#23239b" stroke-width="1" fill="none"/>
<line x1="508.9" y1="307.8" x2="508.9" y2="312.8" stroke="#861a1a" stroke-width="1"/>
<line x1="503.2" y1="313.1" x2="514.6" y2="313.1" stroke="#861a1a" stroke-width="1.1"/>
<line x1="505.2" y1="315.2" x2="512.6" y2="315.2" stroke="#861a1a" stroke-width="1"/>
<line x1="507.3" y1="317.2" x2="510.5" y2="317.2" stroke="#861a1a" stroke-width="1"/>
<text x="508.9" y="323.3" font-size="5.4" fill="#861a1a" font-weight="bold" font-family='"Liberation Serif", serif' text-anchor="middle" textLength="13" lengthAdjust="spacingAndGlyphs" stroke="#861a1a" stroke-width="0.2">GND2</text>
<line x1="425" y1="164.8" x2="505.2" y2="303" stroke="#ff1010" stroke-width="1.75"/>
<line x1="425" y1="303" x2="505.2" y2="164.8" stroke="#ff1010" stroke-width="1.75"/>
<circle cx="553.4" cy="165.1" r="1.55" fill="#23239b"/>
<circle cx="553.4" cy="192.3" r="1.55" fill="#23239b"/>
<polyline points="553.4,159 553.4,170.3" stroke="#23239b" stroke-width="1" fill="none"/>
<line x1="576.7" y1="159" x2="591.8" y2="159" stroke="#23239b" stroke-width="1"/>
<line x1="553.4" y1="170.3" x2="561" y2="170.3" stroke="#333333" stroke-width="1"/>
<polyline points="561,170.3 561.55,171.7 562.65,168.9 563.75,171.7 564.85,168.9 565.95,171.7 567.05,168.9 567.6,170.3" stroke="#2f2ff5" stroke-width="1.05" fill="none"/>
<line x1="567.6" y1="170.3" x2="591.8" y2="170.3" stroke="#23239b" stroke-width="1"/>
<polyline points="553.4,187.2 553.4,198.4" stroke="#23239b" stroke-width="1" fill="none"/>
<line x1="553.4" y1="187.2" x2="561" y2="187.2" stroke="#333333" stroke-width="1"/>
<polyline points="561,187.2 561.55,188.6 562.65,185.8 563.75,188.6 564.85,185.8 565.95,188.6 567.05,185.8 567.6,187.2" stroke="#2f2ff5" stroke-width="1.05" fill="none"/>
<line x1="567.6" y1="187.2" x2="591.8" y2="187.2" stroke="#23239b" stroke-width="1"/>
<line x1="576.7" y1="198.4" x2="591.8" y2="198.4" stroke="#23239b" stroke-width="1"/>
<line x1="551.9" y1="157.2" x2="576.7" y2="161.3" stroke="#ff1010" stroke-width="1.4"/>
<line x1="551.9" y1="161.3" x2="576.7" y2="157.2" stroke="#ff1010" stroke-width="1.4"/>
<line x1="551.9" y1="196.4" x2="576.7" y2="200.5" stroke="#ff1010" stroke-width="1.4"/>
<line x1="551.9" y1="200.5" x2="576.7" y2="196.4" stroke="#ff1010" stroke-width="1.4"/>
<text x="580.3" y="159.3" font-size="4.85" fill="#8f0a0a" font-weight="bold" font-family='"Liberation Sans", sans-serif' text-anchor="start" stroke="#8f0a0a" stroke-width="0.22">RX_IN</text>
<text x="581" y="169.6" font-size="4.85" fill="#8f0a0a" font-weight="bold" font-family='"Liberation Sans", sans-serif' text-anchor="start" stroke="#8f0a0a" stroke-width="0.22">TX_OUT</text>
<text x="580.3" y="186.5" font-size="4.85" fill="#8f0a0a" font-weight="bold" font-family='"Liberation Sans", sans-serif' text-anchor="start" stroke="#8f0a0a" stroke-width="0.22">RX_IN</text>
<text x="580.3" y="197.6" font-size="4.85" fill="#8f0a0a" font-weight="bold" font-family='"Liberation Sans", sans-serif' text-anchor="start" stroke="#8f0a0a" stroke-width="0.22">TX_OUT</text>
<text x="568" y="170.2" font-size="5" fill="#111111" font-weight="bold" font-family='"Liberation Sans", sans-serif' text-anchor="start" stroke="#111111" stroke-width="0.22">22</text>
<text x="568" y="186.9" font-size="5" fill="#111111" font-weight="bold" font-family='"Liberation Sans", sans-serif' text-anchor="start" stroke="#111111" stroke-width="0.22">22</text>
<text x="553" y="175" font-size="5" fill="#111111" font-weight="bold" font-family='"Liberation Sans", sans-serif' text-anchor="start" stroke="#111111" stroke-width="0.22">R28</text>
<text x="553" y="186.2" font-size="5" fill="#111111" font-weight="bold" font-family='"Liberation Sans", sans-serif' text-anchor="start" stroke="#111111" stroke-width="0.22">R29</text>
<text x="553.5" y="157.2" font-size="4" fill="#a0a0a0" font-weight="normal" font-family='"Liberation Sans", sans-serif' text-anchor="start" textLength="7.5" lengthAdjust="spacingAndGlyphs">R37</text>
<text x="567" y="157.2" font-size="4" fill="#a0a0a0" font-weight="normal" font-family='"Liberation Sans", sans-serif' text-anchor="start" textLength="8.5" lengthAdjust="spacingAndGlyphs">DNP</text>
<text x="567" y="196.6" font-size="4" fill="#a0a0a0" font-weight="normal" font-family='"Liberation Sans", sans-serif' text-anchor="start" textLength="8.5" lengthAdjust="spacingAndGlyphs">DNP</text>
<text x="554" y="203.4" font-size="4" fill="#a0a0a0" font-weight="normal" font-family='"Liberation Sans", sans-serif' text-anchor="start" textLength="7.5" lengthAdjust="spacingAndGlyphs">R30</text>
<path d="M647.4,255 L647.4,199 Q647.4,195.5 650.4,194.6 L668.5,188 Q674.5,186 674.5,192 L674.5,258.5 Q674.5,264 669.5,262.8 L650.4,258.4 Q647.4,257.7 647.4,255 Z" fill="none" stroke="#2f2ff5" stroke-width="1.15"/>
<polyline points="651.2,200.9 654.2,203.7 651.2,206.5" stroke="#2f2ff5" stroke-width="0.9" fill="none"/>
<line x1="654.2" y1="203.7" x2="674.5" y2="203.7" stroke="#2f2ff5" stroke-width="1"/>
<line x1="674.5" y1="203.7" x2="698" y2="203.7" stroke="#333333" stroke-width="1"/>
<line x1="698" y1="203.7" x2="741.2" y2="203.7" stroke="#23239b" stroke-width="1"/>
<text x="680.2" y="202.9" font-size="3.6" fill="#111111" font-weight="bold" font-family='"Liberation Sans", sans-serif' text-anchor="start" stroke="#111111" stroke-width="0.22">1</text>
<polyline points="662,206.6 665,209.4 662,212.2" stroke="#2f2ff5" stroke-width="0.9" fill="none"/>
<line x1="665" y1="209.4" x2="674.5" y2="209.4" stroke="#2f2ff5" stroke-width="1"/>
<line x1="674.5" y1="209.4" x2="698" y2="209.4" stroke="#333333" stroke-width="1"/>
<line x1="698" y1="209.4" x2="741.2" y2="209.4" stroke="#23239b" stroke-width="1"/>
<text x="680.2" y="208.6" font-size="3.6" fill="#111111" font-weight="bold" font-family='"Liberation Sans", sans-serif' text-anchor="start" stroke="#111111" stroke-width="0.22">6</text>
<polyline points="651.2,212.1 654.2,214.9 651.2,217.7" stroke="#2f2ff5" stroke-width="0.9" fill="none"/>
<line x1="654.2" y1="214.9" x2="674.5" y2="214.9" stroke="#2f2ff5" stroke-width="1"/>
<line x1="674.5" y1="214.9" x2="698" y2="214.9" stroke="#333333" stroke-width="1"/>
<line x1="698" y1="214.9" x2="741.2" y2="214.9" stroke="#23239b" stroke-width="1"/>
<text x="680.2" y="214.1" font-size="3.6" fill="#111111" font-weight="bold" font-family='"Liberation Sans", sans-serif' text-anchor="start" stroke="#111111" stroke-width="0.22">2</text>
<polyline points="662,217.4 665,220.2 662,223" stroke="#2f2ff5" stroke-width="0.9" fill="none"/>
<line x1="665" y1="220.2" x2="674.5" y2="220.2" stroke="#2f2ff5" stroke-width="1"/>
<line x1="674.5" y1="220.2" x2="698" y2="220.2" stroke="#333333" stroke-width="1"/>
<line x1="698" y1="220.2" x2="741.2" y2="220.2" stroke="#23239b" stroke-width="1"/>
<text x="680.2" y="219.4" font-size="3.6" fill="#111111" font-weight="bold" font-family='"Liberation Sans", sans-serif' text-anchor="start" stroke="#111111" stroke-width="0.22">7</text>
<polyline points="651.2,223 654.2,225.8 651.2,228.6" stroke="#2f2ff5" stroke-width="0.9" fill="none"/>
<line x1="654.2" y1="225.8" x2="674.5" y2="225.8" stroke="#2f2ff5" stroke-width="1"/>
<line x1="674.5" y1="225.8" x2="698" y2="225.8" stroke="#333333" stroke-width="1"/>
<line x1="698" y1="225.8" x2="741.2" y2="225.8" stroke="#23239b" stroke-width="1"/>
<text x="680.2" y="225" font-size="3.6" fill="#111111" font-weight="bold" font-family='"Liberation Sans", sans-serif' text-anchor="start" stroke="#111111" stroke-width="0.22">3</text>
<polyline points="662,228.8 665,231.6 662,234.4" stroke="#2f2ff5" stroke-width="0.9" fill="none"/>
<line x1="665" y1="231.6" x2="674.5" y2="231.6" stroke="#2f2ff5" stroke-width="1"/>
<line x1="674.5" y1="231.6" x2="698" y2="231.6" stroke="#333333" stroke-width="1"/>
<line x1="698" y1="231.6" x2="741.2" y2="231.6" stroke="#23239b" stroke-width="1"/>
<text x="680.2" y="230.8" font-size="3.6" fill="#111111" font-weight="bold" font-family='"Liberation Sans", sans-serif' text-anchor="start" stroke="#111111" stroke-width="0.22">8</text>
<polyline points="651.2,234.5 654.2,237.3 651.2,240.1" stroke="#2f2ff5" stroke-width="0.9" fill="none"/>
<line x1="654.2" y1="237.3" x2="674.5" y2="237.3" stroke="#2f2ff5" stroke-width="1"/>
<line x1="674.5" y1="237.3" x2="698" y2="237.3" stroke="#333333" stroke-width="1"/>
<line x1="698" y1="237.3" x2="741.2" y2="237.3" stroke="#23239b" stroke-width="1"/>
<text x="680.2" y="236.5" font-size="3.6" fill="#111111" font-weight="bold" font-family='"Liberation Sans", sans-serif' text-anchor="start" stroke="#111111" stroke-width="0.22">4</text>
<polyline points="662,240 665,242.8 662,245.6" stroke="#2f2ff5" stroke-width="0.9" fill="none"/>
<line x1="665" y1="242.8" x2="674.5" y2="242.8" stroke="#2f2ff5" stroke-width="1"/>
<line x1="674.5" y1="242.8" x2="698" y2="242.8" stroke="#333333" stroke-width="1"/>
<line x1="698" y1="242.8" x2="741.2" y2="242.8" stroke="#23239b" stroke-width="1"/>
<text x="680.2" y="242" font-size="3.6" fill="#111111" font-weight="bold" font-family='"Liberation Sans", sans-serif' text-anchor="start" stroke="#111111" stroke-width="0.22">9</text>
<polyline points="651.2,245.5 654.2,248.3 651.2,251.1" stroke="#2f2ff5" stroke-width="0.9" fill="none"/>
<line x1="654.2" y1="248.3" x2="674.5" y2="248.3" stroke="#2f2ff5" stroke-width="1"/>
<text x="680.2" y="247.5" font-size="3.6" fill="#111111" font-weight="bold" font-family='"Liberation Sans", sans-serif' text-anchor="start" stroke="#111111" stroke-width="0.22">5</text>
<text x="687.4" y="203" font-size="5" fill="#111111" font-weight="bold" font-family='"Liberation Sans", sans-serif' text-anchor="start" stroke="#111111" stroke-width="0.22">R31</text>
<line x1="696" y1="203.7" x2="698" y2="203.7" stroke="#333333" stroke-width="1"/>
<polyline points="698,203.7 698.58,205.1 699.75,202.3 700.92,205.1 702.08,202.3 703.25,205.1 704.42,202.3 705,203.7" stroke="#2f2ff5" stroke-width="1.05" fill="none"/>
<text x="705.4" y="202.5" font-size="5" fill="#111111" font-weight="bold" font-family='"Liberation Sans", sans-serif' text-anchor="start" stroke="#111111" stroke-width="0.22">22</text>
<text x="687.4" y="208.7" font-size="5" fill="#111111" font-weight="bold" font-family='"Liberation Sans", sans-serif' text-anchor="start" stroke="#111111" stroke-width="0.22">R32</text>
<line x1="696" y1="209.4" x2="698" y2="209.4" stroke="#333333" stroke-width="1"/>
<polyline points="698,209.4 698.58,210.8 699.75,208 700.92,210.8 702.08,208 703.25,210.8 704.42,208 705,209.4" stroke="#2f2ff5" stroke-width="1.05" fill="none"/>
<text x="705.4" y="208.2" font-size="5" fill="#111111" font-weight="bold" font-family='"Liberation Sans", sans-serif' text-anchor="start" stroke="#111111" stroke-width="0.22">22</text>
<text x="687.4" y="219.5" font-size="5" fill="#111111" font-weight="bold" font-family='"Liberation Sans", sans-serif' text-anchor="start" stroke="#111111" stroke-width="0.22">R33</text>
<line x1="696" y1="220.2" x2="698" y2="220.2" stroke="#333333" stroke-width="1"/>
<polyline points="698,220.2 698.58,221.6 699.75,218.8 700.92,221.6 702.08,218.8 703.25,221.6 704.42,218.8 705,220.2" stroke="#2f2ff5" stroke-width="1.05" fill="none"/>
<text x="705.4" y="219" font-size="5" fill="#111111" font-weight="bold" font-family='"Liberation Sans", sans-serif' text-anchor="start" stroke="#111111" stroke-width="0.22">22</text>
<text x="687.4" y="230.9" font-size="5" fill="#111111" font-weight="bold" font-family='"Liberation Sans", sans-serif' text-anchor="start" stroke="#111111" stroke-width="0.22">R34</text>
<line x1="696" y1="231.6" x2="698" y2="231.6" stroke="#333333" stroke-width="1"/>
<polyline points="698,231.6 698.58,233 699.75,230.2 700.92,233 702.08,230.2 703.25,233 704.42,230.2 705,231.6" stroke="#2f2ff5" stroke-width="1.05" fill="none"/>
<text x="705.4" y="230.4" font-size="5" fill="#111111" font-weight="bold" font-family='"Liberation Sans", sans-serif' text-anchor="start" stroke="#111111" stroke-width="0.22">22</text>
<text x="687.4" y="236.6" font-size="5" fill="#111111" font-weight="bold" font-family='"Liberation Sans", sans-serif' text-anchor="start" stroke="#111111" stroke-width="0.22">R35</text>
<line x1="696" y1="237.3" x2="698" y2="237.3" stroke="#333333" stroke-width="1"/>
<polyline points="698,237.3 698.58,238.7 699.75,235.9 700.92,238.7 702.08,235.9 703.25,238.7 704.42,235.9 705,237.3" stroke="#2f2ff5" stroke-width="1.05" fill="none"/>
<text x="705.4" y="236.1" font-size="5" fill="#111111" font-weight="bold" font-family='"Liberation Sans", sans-serif' text-anchor="start" stroke="#111111" stroke-width="0.22">22</text>
<text x="687.4" y="242.1" font-size="5" fill="#111111" font-weight="bold" font-family='"Liberation Sans", sans-serif' text-anchor="start" stroke="#111111" stroke-width="0.22">R36</text>
<line x1="696" y1="242.8" x2="698" y2="242.8" stroke="#333333" stroke-width="1"/>
<polyline points="698,242.8 698.58,244.2 699.75,241.4 700.92,244.2 702.08,241.4 703.25,244.2 704.42,241.4 705,242.8" stroke="#2f2ff5" stroke-width="1.05" fill="none"/>
<text x="705.4" y="241.6" font-size="5" fill="#111111" font-weight="bold" font-family='"Liberation Sans", sans-serif' text-anchor="start" stroke="#111111" stroke-width="0.22">22</text>
<text x="718.4" y="203.1" font-size="4.85" fill="#8f0a0a" font-weight="bold" font-family='"Liberation Sans", sans-serif' text-anchor="start" stroke="#8f0a0a" stroke-width="0.22">DCD_OUT</text>
<text x="718.4" y="208.8" font-size="4.85" fill="#8f0a0a" font-weight="bold" font-family='"Liberation Sans", sans-serif' text-anchor="start" stroke="#8f0a0a" stroke-width="0.22">DSR_OUT</text>
<text x="718.4" y="214.3" font-size="4.85" fill="#8f0a0a" font-weight="bold" font-family='"Liberation Sans", sans-serif' text-anchor="start" stroke="#8f0a0a" stroke-width="0.22">RX_IN</text>
<text x="718.4" y="219.6" font-size="4.85" fill="#8f0a0a" font-weight="bold" font-family='"Liberation Sans", sans-serif' text-anchor="start" stroke="#8f0a0a" stroke-width="0.22">RTS_IN</text>
<text x="718.4" y="225.2" font-size="4.85" fill="#8f0a0a" font-weight="bold" font-family='"Liberation Sans", sans-serif' text-anchor="start" stroke="#8f0a0a" stroke-width="0.22">TX_OUT</text>
<text x="718.4" y="231" font-size="4.85" fill="#8f0a0a" font-weight="bold" font-family='"Liberation Sans", sans-serif' text-anchor="start" stroke="#8f0a0a" stroke-width="0.22">CTS_OUT</text>
<text x="718.4" y="236.7" font-size="4.85" fill="#8f0a0a" font-weight="bold" font-family='"Liberation Sans", sans-serif' text-anchor="start" stroke="#8f0a0a" stroke-width="0.22">DTR_IN</text>
<text x="718.4" y="242.2" font-size="4.85" fill="#8f0a0a" font-weight="bold" font-family='"Liberation Sans", sans-serif' text-anchor="start" stroke="#8f0a0a" stroke-width="0.22">RI_OUT</text>
<polyline points="674.5,248.3 696.4,248.3 696.4,269.6" stroke="#23239b" stroke-width="1" fill="none"/>
<line x1="696.4" y1="264.6" x2="696.4" y2="269.6" stroke="#861a1a" stroke-width="1"/>
<line x1="690.7" y1="269.9" x2="702.1" y2="269.9" stroke="#861a1a" stroke-width="1.1"/>
<line x1="692.7" y1="272" x2="700.1" y2="272" stroke="#861a1a" stroke-width="1"/>
<line x1="694.8" y1="274" x2="698" y2="274" stroke="#861a1a" stroke-width="1"/>
<text x="696.4" y="279.8" font-size="5.4" fill="#861a1a" font-weight="bold" font-family='"Liberation Serif", serif' text-anchor="middle" textLength="13" lengthAdjust="spacingAndGlyphs" stroke="#861a1a" stroke-width="0.2">GND2</text>
<text x="655" y="188.5" font-size="5" fill="#111111" font-weight="bold" font-family='"Liberation Sans", sans-serif' text-anchor="start" stroke="#111111" stroke-width="0.22">J1</text>
<polyline points="646,197.8 619.5,197.8 619.5,259.5" stroke="#23239b" stroke-width="1" fill="none"/>
<line x1="619.5" y1="253.1" x2="646.4" y2="253.1" stroke="#23239b" stroke-width="1"/>
<circle cx="619.5" cy="253.1" r="1.55" fill="#23239b"/>
<text x="638" y="197.2" font-size="3.8" fill="#111111" font-weight="bold" font-family='"Liberation Sans", sans-serif' text-anchor="start" stroke="#111111" stroke-width="0.22">10</text>
<text x="637.5" y="252.6" font-size="3.8" fill="#111111" font-weight="bold" font-family='"Liberation Sans", sans-serif' text-anchor="start" stroke="#111111" stroke-width="0.22">11</text>
<rect x="617.4" y="259.5" width="4.2" height="9" fill="none" stroke="#2f2ff5" stroke-width="0.9"/>
<line x1="619.5" y1="268.5" x2="619.5" y2="280" stroke="#23239b" stroke-width="1"/>
<line x1="619.5" y1="275" x2="619.5" y2="280" stroke="#861a1a" stroke-width="1"/>
<line x1="613.8" y1="280.3" x2="625.2" y2="280.3" stroke="#861a1a" stroke-width="1.1"/>
<line x1="615.8" y1="282.4" x2="623.2" y2="282.4" stroke="#861a1a" stroke-width="1"/>
<line x1="617.9" y1="284.4" x2="621.1" y2="284.4" stroke="#861a1a" stroke-width="1"/>
<text x="619.5" y="291.1" font-size="5.4" fill="#861a1a" font-weight="bold" font-family='"Liberation Serif", serif' text-anchor="middle" textLength="13" lengthAdjust="spacingAndGlyphs" stroke="#861a1a" stroke-width="0.2">GND3</text>
<text x="620.5" y="264.2" font-size="5" fill="#111111" font-weight="bold" font-family='"Liberation Sans", sans-serif' text-anchor="start" stroke="#111111" stroke-width="0.22">L2</text>
<text x="620.5" y="270" font-size="5" fill="#111111" font-weight="bold" font-family='"Liberation Sans", sans-serif' text-anchor="start" stroke="#111111" stroke-width="0.22">120 ohm</text>
<text x="646.4" y="269.3" font-size="5" fill="#1a1a80" font-weight="bold" font-family='"Liberation Serif", serif' text-anchor="start" textLength="35.5" lengthAdjust="spacingAndGlyphs" stroke="#1a1a80" stroke-width="0.3">1C2-009-213R171</text>
<polyline points="410,434.8 410,391.2 416,391.2" stroke="#23239b" stroke-width="1" fill="none"/>
<line x1="416" y1="391.2" x2="423" y2="391.2" stroke="#333333" stroke-width="1"/>
<polyline points="423,391.2 423.67,392.6 425,389.8 426.33,392.6 427.67,389.8 429,392.6 430.33,389.8 431,391.2" stroke="#2f2ff5" stroke-width="1.05" fill="none"/>
<line x1="431" y1="391.2" x2="437" y2="391.2" stroke="#333333" stroke-width="1"/>
<polyline points="437,391.2 443.4,391.2 443.4,434.8" stroke="#23239b" stroke-width="1" fill="none"/>
<line x1="410" y1="429.8" x2="410" y2="434.8" stroke="#861a1a" stroke-width="1"/>
<line x1="404.3" y1="435.1" x2="415.7" y2="435.1" stroke="#861a1a" stroke-width="1.1"/>
<line x1="406.3" y1="437.2" x2="413.7" y2="437.2" stroke="#861a1a" stroke-width="1"/>
<line x1="408.4" y1="439.2" x2="411.6" y2="439.2" stroke="#861a1a" stroke-width="1"/>
<text x="410" y="444.4" font-size="5.4" fill="#861a1a" font-weight="bold" font-family='"Liberation Serif", serif' text-anchor="middle" textLength="13" lengthAdjust="spacingAndGlyphs" stroke="#861a1a" stroke-width="0.2">GND2</text>
<line x1="443.4" y1="429.8" x2="443.4" y2="434.8" stroke="#861a1a" stroke-width="1"/>
<line x1="437.7" y1="435.1" x2="449.1" y2="435.1" stroke="#861a1a" stroke-width="1.1"/>
<line x1="439.7" y1="437.2" x2="447.1" y2="437.2" stroke="#861a1a" stroke-width="1"/>
<line x1="441.8" y1="439.2" x2="445" y2="439.2" stroke="#861a1a" stroke-width="1"/>
<text x="443.4" y="444.4" font-size="5.4" fill="#861a1a" font-weight="bold" font-family='"Liberation Serif", serif' text-anchor="middle" textLength="13" lengthAdjust="spacingAndGlyphs" stroke="#861a1a" stroke-width="0.2">GND3</text>
<text x="421.4" y="389" font-size="5" fill="#111111" font-weight="bold" font-family='"Liberation Sans", sans-serif' text-anchor="start" stroke="#111111" stroke-width="0.22">R37</text>
<text x="421.4" y="397.3" font-size="5" fill="#111111" font-weight="bold" font-family='"Liberation Sans", sans-serif' text-anchor="start" stroke="#111111" stroke-width="0.22">0</text>
<polyline points="470.6,434.8 470.6,391.2 476.8,391.2" stroke="#23239b" stroke-width="1" fill="none"/>
<line x1="476.8" y1="391.2" x2="483.8" y2="391.2" stroke="#333333" stroke-width="1"/>
<polyline points="483.8,391.2 484.47,392.6 485.8,389.8 487.13,392.6 488.47,389.8 489.8,392.6 491.13,389.8 491.8,391.2" stroke="#2f2ff5" stroke-width="1.05" fill="none"/>
<line x1="491.8" y1="391.2" x2="497.8" y2="391.2" stroke="#333333" stroke-width="1"/>
<polyline points="497.8,391.2 509.3,391.2 509.3,434.8" stroke="#23239b" stroke-width="1" fill="none"/>
<line x1="470.6" y1="429.8" x2="470.6" y2="434.8" stroke="#861a1a" stroke-width="1"/>
<line x1="464.9" y1="435.1" x2="476.3" y2="435.1" stroke="#861a1a" stroke-width="1.1"/>
<line x1="466.9" y1="437.2" x2="474.3" y2="437.2" stroke="#861a1a" stroke-width="1"/>
<line x1="469" y1="439.2" x2="472.2" y2="439.2" stroke="#861a1a" stroke-width="1"/>
<text x="470.6" y="444.4" font-size="5.4" fill="#861a1a" font-weight="bold" font-family='"Liberation Serif", serif' text-anchor="middle" textLength="13" lengthAdjust="spacingAndGlyphs" stroke="#861a1a" stroke-width="0.2">GND2</text>
<line x1="509.3" y1="429.8" x2="509.3" y2="434.8" stroke="#861a1a" stroke-width="1"/>
<line x1="503.6" y1="435.1" x2="515" y2="435.1" stroke="#861a1a" stroke-width="1.1"/>
<line x1="505.6" y1="437.2" x2="513" y2="437.2" stroke="#861a1a" stroke-width="1"/>
<line x1="507.7" y1="439.2" x2="510.9" y2="439.2" stroke="#861a1a" stroke-width="1"/>
<text x="509.3" y="444.4" font-size="5.4" fill="#861a1a" font-weight="bold" font-family='"Liberation Serif", serif' text-anchor="middle" textLength="13" lengthAdjust="spacingAndGlyphs" stroke="#861a1a" stroke-width="0.2">GND3</text>
<text x="482.2" y="389" font-size="5" fill="#111111" font-weight="bold" font-family='"Liberation Sans", sans-serif' text-anchor="start" stroke="#111111" stroke-width="0.22">R38</text>
<text x="482.2" y="397.3" font-size="5" fill="#111111" font-weight="bold" font-family='"Liberation Sans", sans-serif' text-anchor="start" stroke="#111111" stroke-width="0.22">0</text>
</svg></body></html>
